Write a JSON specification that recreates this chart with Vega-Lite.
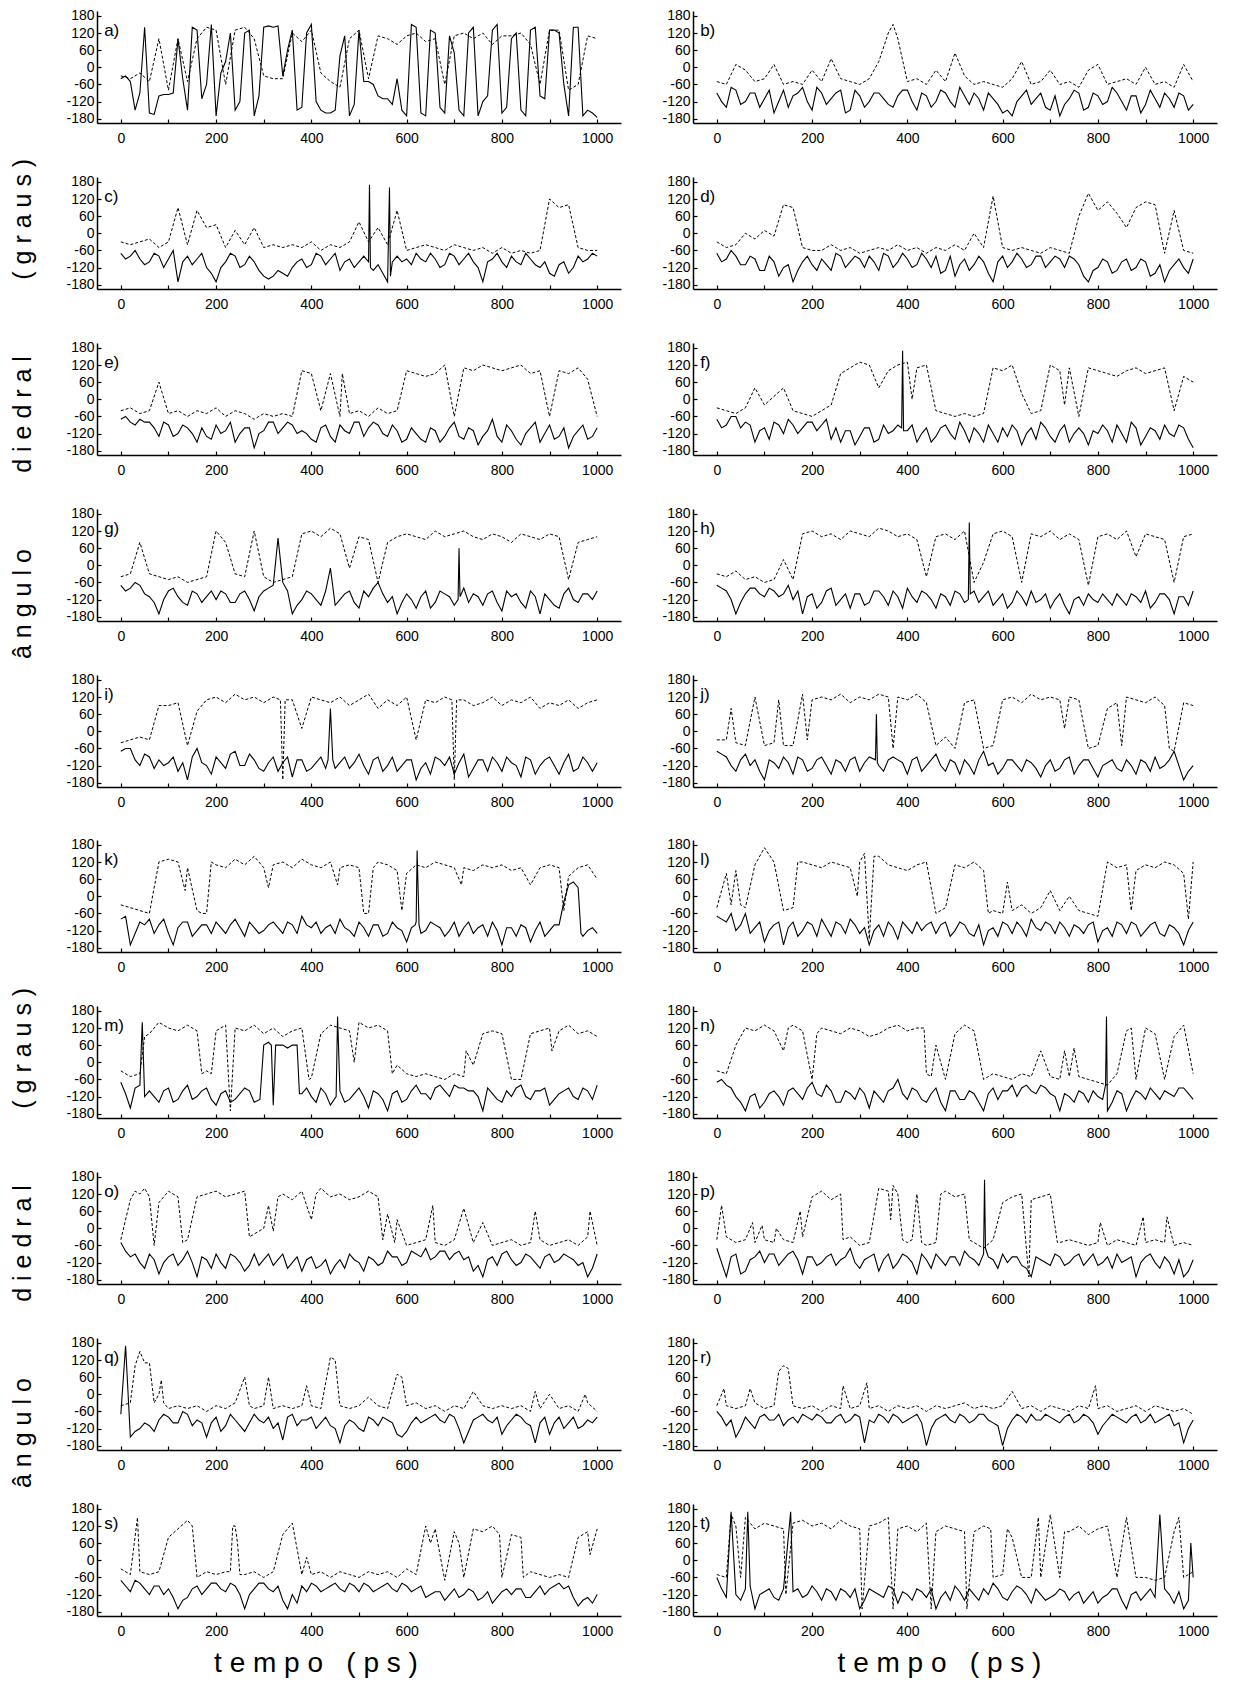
{
"$schema":"https://vega.github.io/schema/vega-lite/v6.json",
"padding":{"left":10,"top":8,"right":5,"bottom":5},
"datasets":{"main":[
{"p":"a)","t":0,"s":-40,"d":-30},{"p":"a)","t":20,"s":-50,"d":-40},{"p":"a)","t":40,"s":-90,"d":-20},{"p":"a)","t":60,"s":-160,"d":-50},{"p":"a)","t":80,"s":-100,"d":100},{"p":"a)","t":100,"s":-95,"d":-80},{"p":"a)","t":120,"s":100,"d":100},{"p":"a)","t":140,"s":-150,"d":-50},{"p":"a)","t":160,"s":130,"d":100},{"p":"a)","t":180,"s":-60,"d":140},{"p":"a)","t":200,"s":-170,"d":130},{"p":"a)","t":220,"s":20,"d":-60},{"p":"a)","t":240,"s":-150,"d":130},{"p":"a)","t":260,"s":120,"d":140},{"p":"a)","t":280,"s":-170,"d":100},{"p":"a)","t":300,"s":140,"d":-30},{"p":"a)","t":320,"s":140,"d":-40},{"p":"a)","t":340,"s":-30,"d":-40},{"p":"a)","t":360,"s":130,"d":120},{"p":"a)","t":380,"s":-140,"d":90},{"p":"a)","t":400,"s":150,"d":130},{"p":"a)","t":420,"s":-150,"d":-20},{"p":"a)","t":440,"s":-160,"d":-50},{"p":"a)","t":460,"s":40,"d":-70},{"p":"a)","t":480,"s":-170,"d":100},{"p":"a)","t":500,"s":130,"d":130},{"p":"a)","t":520,"s":-50,"d":-40},{"p":"a)","t":540,"s":-100,"d":110},{"p":"a)","t":560,"s":-110,"d":100},{"p":"a)","t":580,"s":-40,"d":80},{"p":"a)","t":600,"s":-170,"d":110},{"p":"a)","t":620,"s":140,"d":120},{"p":"a)","t":640,"s":-170,"d":90},{"p":"a)","t":660,"s":120,"d":100},{"p":"a)","t":680,"s":-160,"d":-60},{"p":"a)","t":700,"s":50,"d":110},{"p":"a)","t":720,"s":-170,"d":120},{"p":"a)","t":740,"s":140,"d":100},{"p":"a)","t":760,"s":-120,"d":120},{"p":"a)","t":780,"s":130,"d":80},{"p":"a)","t":800,"s":-160,"d":110},{"p":"a)","t":820,"s":100,"d":110},{"p":"a)","t":840,"s":-150,"d":120},{"p":"a)","t":860,"s":130,"d":80},{"p":"a)","t":880,"s":-100,"d":-60},{"p":"a)","t":900,"s":130,"d":130},{"p":"a)","t":920,"s":120,"d":130},{"p":"a)","t":940,"s":-170,"d":-80},{"p":"a)","t":960,"s":140,"d":-60},{"p":"a)","t":980,"s":-150,"d":110},{"p":"a)","t":1000,"s":-175,"d":100},
{"p":"a)","t":10,"s":-30},{"p":"a)","t":30,"s":-150},{"p":"a)","t":50,"s":140},{"p":"a)","t":70,"s":-165},{"p":"a)","t":90,"s":-95},{"p":"a)","t":110,"s":-90},{"p":"a)","t":130,"s":-40},{"p":"a)","t":150,"s":140},{"p":"a)","t":170,"s":-110},{"p":"a)","t":190,"s":150},{"p":"a)","t":210,"s":-20},{"p":"a)","t":230,"s":120},{"p":"a)","t":250,"s":-120},{"p":"a)","t":270,"s":130},{"p":"a)","t":290,"s":-100},{"p":"a)","t":310,"s":145},{"p":"a)","t":330,"s":145},{"p":"a)","t":350,"s":60},{"p":"a)","t":370,"s":-150},{"p":"a)","t":390,"s":120},{"p":"a)","t":410,"s":-120},{"p":"a)","t":430,"s":-160},{"p":"a)","t":450,"s":-150},{"p":"a)","t":470,"s":110},{"p":"a)","t":490,"s":-130},{"p":"a)","t":510,"s":-50},{"p":"a)","t":530,"s":-60},{"p":"a)","t":550,"s":-110},{"p":"a)","t":570,"s":-130},{"p":"a)","t":590,"s":-150},{"p":"a)","t":610,"s":150},{"p":"a)","t":630,"s":-160},{"p":"a)","t":650,"s":130},{"p":"a)","t":670,"s":-140},{"p":"a)","t":690,"s":110},{"p":"a)","t":710,"s":-150},{"p":"a)","t":730,"s":120},{"p":"a)","t":750,"s":-170},{"p":"a)","t":770,"s":-100},{"p":"a)","t":790,"s":150},{"p":"a)","t":810,"s":-140},{"p":"a)","t":830,"s":120},{"p":"a)","t":850,"s":-170},{"p":"a)","t":870,"s":140},{"p":"a)","t":890,"s":-110},{"p":"a)","t":910,"s":130},{"p":"a)","t":930,"s":-60},{"p":"a)","t":950,"s":140},{"p":"a)","t":970,"s":-170},{"p":"a)","t":990,"s":-160},
{"p":"b)","t":0,"s":-90,"d":-50},{"p":"b)","t":20,"s":-140,"d":-60},{"p":"b)","t":40,"s":-80,"d":10},{"p":"b)","t":60,"s":-120,"d":-10},{"p":"b)","t":80,"s":-90,"d":-50},{"p":"b)","t":100,"s":-110,"d":-40},{"p":"b)","t":120,"s":-160,"d":10},{"p":"b)","t":140,"s":-80,"d":-60},{"p":"b)","t":160,"s":-100,"d":-50},{"p":"b)","t":180,"s":-70,"d":-60},{"p":"b)","t":200,"s":-150,"d":-10},{"p":"b)","t":220,"s":-90,"d":-50},{"p":"b)","t":240,"s":-110,"d":30},{"p":"b)","t":260,"s":-80,"d":-40},{"p":"b)","t":280,"s":-150,"d":-50},{"p":"b)","t":300,"s":-100,"d":-60},{"p":"b)","t":320,"s":-120,"d":-40},{"p":"b)","t":340,"s":-90,"d":20},{"p":"b)","t":360,"s":-130,"d":120},{"p":"b)","t":380,"s":-100,"d":100},{"p":"b)","t":400,"s":-80,"d":-50},{"p":"b)","t":420,"s":-150,"d":-40},{"p":"b)","t":440,"s":-100,"d":-60},{"p":"b)","t":460,"s":-120,"d":-10},{"p":"b)","t":480,"s":-90,"d":-50},{"p":"b)","t":500,"s":-140,"d":50},{"p":"b)","t":520,"s":-100,"d":-30},{"p":"b)","t":540,"s":-90,"d":-60},{"p":"b)","t":560,"s":-150,"d":-50},{"p":"b)","t":580,"s":-110,"d":-60},{"p":"b)","t":600,"s":-160,"d":-70},{"p":"b)","t":620,"s":-170,"d":-40},{"p":"b)","t":640,"s":-100,"d":20},{"p":"b)","t":660,"s":-130,"d":-60},{"p":"b)","t":680,"s":-90,"d":-50},{"p":"b)","t":700,"s":-150,"d":-10},{"p":"b)","t":720,"s":-170,"d":-60},{"p":"b)","t":740,"s":-110,"d":-50},{"p":"b)","t":760,"s":-90,"d":-70},{"p":"b)","t":780,"s":-140,"d":-10},{"p":"b)","t":800,"s":-100,"d":10},{"p":"b)","t":820,"s":-120,"d":-60},{"p":"b)","t":840,"s":-90,"d":-50},{"p":"b)","t":860,"s":-150,"d":-40},{"p":"b)","t":880,"s":-100,"d":-60},{"p":"b)","t":900,"s":-130,"d":0},{"p":"b)","t":920,"s":-110,"d":-60},{"p":"b)","t":940,"s":-90,"d":-50},{"p":"b)","t":960,"s":-140,"d":-70},{"p":"b)","t":980,"s":-100,"d":10},{"p":"b)","t":1000,"s":-130,"d":-50},{"p":"b)","t":370,"d":150},
{"p":"b)","t":10,"s":-120},{"p":"b)","t":30,"s":-70},{"p":"b)","t":50,"s":-130},{"p":"b)","t":70,"s":-90},{"p":"b)","t":90,"s":-140},{"p":"b)","t":110,"s":-80},{"p":"b)","t":130,"s":-120},{"p":"b)","t":150,"s":-140},{"p":"b)","t":170,"s":-90},{"p":"b)","t":190,"s":-120},{"p":"b)","t":210,"s":-70},{"p":"b)","t":230,"s":-130},{"p":"b)","t":250,"s":-90},{"p":"b)","t":270,"s":-160},{"p":"b)","t":290,"s":-80},{"p":"b)","t":310,"s":-140},{"p":"b)","t":330,"s":-90},{"p":"b)","t":350,"s":-110},{"p":"b)","t":370,"s":-140},{"p":"b)","t":390,"s":-80},{"p":"b)","t":410,"s":-120},{"p":"b)","t":430,"s":-90},{"p":"b)","t":450,"s":-140},{"p":"b)","t":470,"s":-80},{"p":"b)","t":490,"s":-120},{"p":"b)","t":510,"s":-70},{"p":"b)","t":530,"s":-130},{"p":"b)","t":550,"s":-110},{"p":"b)","t":570,"s":-90},{"p":"b)","t":590,"s":-130},{"p":"b)","t":610,"s":-150},{"p":"b)","t":630,"s":-120},{"p":"b)","t":650,"s":-80},{"p":"b)","t":670,"s":-110},{"p":"b)","t":690,"s":-140},{"p":"b)","t":710,"s":-100},{"p":"b)","t":730,"s":-130},{"p":"b)","t":750,"s":-80},{"p":"b)","t":770,"s":-150},{"p":"b)","t":790,"s":-90},{"p":"b)","t":810,"s":-130},{"p":"b)","t":830,"s":-70},{"p":"b)","t":850,"s":-120},{"p":"b)","t":870,"s":-100},{"p":"b)","t":890,"s":-160},{"p":"b)","t":910,"s":-80},{"p":"b)","t":930,"s":-140},{"p":"b)","t":950,"s":-110},{"p":"b)","t":970,"s":-90},{"p":"b)","t":990,"s":-150},
{"p":"c)","t":0,"s":-70,"d":-30},{"p":"c)","t":20,"s":-80,"d":-40},{"p":"c)","t":40,"s":-90,"d":-30},{"p":"c)","t":60,"s":-100,"d":-20},{"p":"c)","t":80,"s":-80,"d":-50},{"p":"c)","t":100,"s":-90,"d":-30},{"p":"c)","t":120,"s":-170,"d":90},{"p":"c)","t":140,"s":-80,"d":-40},{"p":"c)","t":160,"s":-90,"d":80},{"p":"c)","t":180,"s":-120,"d":20},{"p":"c)","t":200,"s":-170,"d":30},{"p":"c)","t":220,"s":-100,"d":-50},{"p":"c)","t":240,"s":-80,"d":10},{"p":"c)","t":260,"s":-110,"d":-40},{"p":"c)","t":280,"s":-100,"d":20},{"p":"c)","t":300,"s":-150,"d":-50},{"p":"c)","t":320,"s":-150,"d":-40},{"p":"c)","t":340,"s":-140,"d":-50},{"p":"c)","t":360,"s":-120,"d":-40},{"p":"c)","t":380,"s":-90,"d":-50},{"p":"c)","t":400,"s":-110,"d":-30},{"p":"c)","t":420,"s":-80,"d":-60},{"p":"c)","t":440,"s":-90,"d":-40},{"p":"c)","t":460,"s":-130,"d":-50},{"p":"c)","t":480,"s":-90,"d":-30},{"p":"c)","t":500,"s":-100,"d":40},{"p":"c)","t":520,"s":-100,"d":-30},{"p":"c)","t":540,"s":-110,"d":20},{"p":"c)","t":560,"s":-170,"d":-40},{"p":"c)","t":580,"s":-80,"d":80},{"p":"c)","t":600,"s":-90,"d":-60},{"p":"c)","t":620,"s":-70,"d":-50},{"p":"c)","t":640,"s":-100,"d":-40},{"p":"c)","t":660,"s":-90,"d":-50},{"p":"c)","t":680,"s":-110,"d":-60},{"p":"c)","t":700,"s":-80,"d":-40},{"p":"c)","t":720,"s":-90,"d":-50},{"p":"c)","t":740,"s":-100,"d":-60},{"p":"c)","t":760,"s":-170,"d":-50},{"p":"c)","t":780,"s":-90,"d":-70},{"p":"c)","t":800,"s":-100,"d":-50},{"p":"c)","t":820,"s":-80,"d":-70},{"p":"c)","t":840,"s":-110,"d":-60},{"p":"c)","t":860,"s":-90,"d":-70},{"p":"c)","t":880,"s":-120,"d":-60},{"p":"c)","t":900,"s":-140,"d":120},{"p":"c)","t":920,"s":-110,"d":90},{"p":"c)","t":940,"s":-140,"d":100},{"p":"c)","t":960,"s":-80,"d":-50},{"p":"c)","t":980,"s":-90,"d":-60},{"p":"c)","t":1000,"s":-80,"d":-60},{"p":"c)","t":522,"s":170},{"p":"c)","t":524,"s":-120},{"p":"c)","t":564,"s":160},{"p":"c)","t":566,"s":-150},
{"p":"c)","t":10,"s":-90},{"p":"c)","t":30,"s":-60},{"p":"c)","t":50,"s":-110},{"p":"c)","t":70,"s":-70},{"p":"c)","t":90,"s":-120},{"p":"c)","t":110,"s":-60},{"p":"c)","t":130,"s":-100},{"p":"c)","t":150,"s":-110},{"p":"c)","t":170,"s":-70},{"p":"c)","t":190,"s":-140},{"p":"c)","t":210,"s":-120},{"p":"c)","t":230,"s":-70},{"p":"c)","t":250,"s":-120},{"p":"c)","t":270,"s":-80},{"p":"c)","t":290,"s":-130},{"p":"c)","t":310,"s":-160},{"p":"c)","t":330,"s":-130},{"p":"c)","t":350,"s":-150},{"p":"c)","t":370,"s":-100},{"p":"c)","t":390,"s":-120},{"p":"c)","t":410,"s":-70},{"p":"c)","t":430,"s":-110},{"p":"c)","t":450,"s":-70},{"p":"c)","t":470,"s":-100},{"p":"c)","t":490,"s":-120},{"p":"c)","t":510,"s":-80},{"p":"c)","t":530,"s":-130},{"p":"c)","t":550,"s":-140},{"p":"c)","t":570,"s":-100},{"p":"c)","t":590,"s":-100},{"p":"c)","t":610,"s":-110},{"p":"c)","t":630,"s":-90},{"p":"c)","t":650,"s":-70},{"p":"c)","t":670,"s":-120},{"p":"c)","t":690,"s":-70},{"p":"c)","t":710,"s":-110},{"p":"c)","t":730,"s":-70},{"p":"c)","t":750,"s":-120},{"p":"c)","t":770,"s":-100},{"p":"c)","t":790,"s":-70},{"p":"c)","t":810,"s":-120},{"p":"c)","t":830,"s":-100},{"p":"c)","t":850,"s":-70},{"p":"c)","t":870,"s":-110},{"p":"c)","t":890,"s":-100},{"p":"c)","t":910,"s":-150},{"p":"c)","t":930,"s":-100},{"p":"c)","t":950,"s":-120},{"p":"c)","t":970,"s":-100},{"p":"c)","t":990,"s":-70},
{"p":"d)","t":0,"s":-70,"d":-30},{"p":"d)","t":20,"s":-90,"d":-50},{"p":"d)","t":40,"s":-80,"d":-40},{"p":"d)","t":60,"s":-110,"d":0},{"p":"d)","t":80,"s":-90,"d":-20},{"p":"d)","t":100,"s":-130,"d":10},{"p":"d)","t":120,"s":-100,"d":-10},{"p":"d)","t":140,"s":-120,"d":100},{"p":"d)","t":160,"s":-170,"d":90},{"p":"d)","t":180,"s":-100,"d":-50},{"p":"d)","t":200,"s":-110,"d":-60},{"p":"d)","t":220,"s":-90,"d":-60},{"p":"d)","t":240,"s":-130,"d":-40},{"p":"d)","t":260,"s":-80,"d":-60},{"p":"d)","t":280,"s":-100,"d":-50},{"p":"d)","t":300,"s":-90,"d":-70},{"p":"d)","t":320,"s":-80,"d":-60},{"p":"d)","t":340,"s":-130,"d":-50},{"p":"d)","t":360,"s":-80,"d":-60},{"p":"d)","t":380,"s":-100,"d":-40},{"p":"d)","t":400,"s":-90,"d":-60},{"p":"d)","t":420,"s":-110,"d":-50},{"p":"d)","t":440,"s":-90,"d":-70},{"p":"d)","t":460,"s":-80,"d":-50},{"p":"d)","t":480,"s":-130,"d":-60},{"p":"d)","t":500,"s":-150,"d":-40},{"p":"d)","t":520,"s":-90,"d":-60},{"p":"d)","t":540,"s":-110,"d":0},{"p":"d)","t":560,"s":-100,"d":-50},{"p":"d)","t":580,"s":-170,"d":130},{"p":"d)","t":600,"s":-80,"d":-50},{"p":"d)","t":620,"s":-100,"d":-60},{"p":"d)","t":640,"s":-90,"d":-50},{"p":"d)","t":660,"s":-110,"d":-60},{"p":"d)","t":680,"s":-80,"d":-70},{"p":"d)","t":700,"s":-100,"d":-50},{"p":"d)","t":720,"s":-90,"d":-60},{"p":"d)","t":740,"s":-80,"d":-70},{"p":"d)","t":760,"s":-110,"d":60},{"p":"d)","t":780,"s":-170,"d":140},{"p":"d)","t":800,"s":-120,"d":80},{"p":"d)","t":820,"s":-100,"d":110},{"p":"d)","t":840,"s":-130,"d":70},{"p":"d)","t":860,"s":-90,"d":20},{"p":"d)","t":880,"s":-120,"d":90},{"p":"d)","t":900,"s":-100,"d":110},{"p":"d)","t":920,"s":-140,"d":100},{"p":"d)","t":940,"s":-170,"d":-70},{"p":"d)","t":960,"s":-110,"d":80},{"p":"d)","t":980,"s":-120,"d":-60},{"p":"d)","t":1000,"s":-90,"d":-70},
{"p":"d)","t":10,"s":-100},{"p":"d)","t":30,"s":-60},{"p":"d)","t":50,"s":-110},{"p":"d)","t":70,"s":-80},{"p":"d)","t":90,"s":-130},{"p":"d)","t":110,"s":-80},{"p":"d)","t":130,"s":-150},{"p":"d)","t":150,"s":-110},{"p":"d)","t":170,"s":-130},{"p":"d)","t":190,"s":-80},{"p":"d)","t":210,"s":-130},{"p":"d)","t":230,"s":-110},{"p":"d)","t":250,"s":-70},{"p":"d)","t":270,"s":-120},{"p":"d)","t":290,"s":-80},{"p":"d)","t":310,"s":-120},{"p":"d)","t":330,"s":-100},{"p":"d)","t":350,"s":-70},{"p":"d)","t":370,"s":-120},{"p":"d)","t":390,"s":-70},{"p":"d)","t":410,"s":-120},{"p":"d)","t":430,"s":-70},{"p":"d)","t":450,"s":-120},{"p":"d)","t":470,"s":-140},{"p":"d)","t":490,"s":-80},{"p":"d)","t":510,"s":-110},{"p":"d)","t":530,"s":-130},{"p":"d)","t":550,"s":-80},{"p":"d)","t":570,"s":-140},{"p":"d)","t":590,"s":-100},{"p":"d)","t":610,"s":-120},{"p":"d)","t":630,"s":-70},{"p":"d)","t":650,"s":-120},{"p":"d)","t":670,"s":-80},{"p":"d)","t":690,"s":-120},{"p":"d)","t":710,"s":-80},{"p":"d)","t":730,"s":-120},{"p":"d)","t":750,"s":-90},{"p":"d)","t":770,"s":-150},{"p":"d)","t":790,"s":-130},{"p":"d)","t":810,"s":-90},{"p":"d)","t":830,"s":-140},{"p":"d)","t":850,"s":-100},{"p":"d)","t":870,"s":-130},{"p":"d)","t":890,"s":-90},{"p":"d)","t":910,"s":-150},{"p":"d)","t":930,"s":-110},{"p":"d)","t":950,"s":-130},{"p":"d)","t":970,"s":-90},{"p":"d)","t":990,"s":-140},
{"p":"e)","t":0,"s":-70,"d":-40},{"p":"e)","t":20,"s":-80,"d":-30},{"p":"e)","t":40,"s":-70,"d":-50},{"p":"e)","t":60,"s":-80,"d":-40},{"p":"e)","t":80,"s":-130,"d":60},{"p":"e)","t":100,"s":-90,"d":-50},{"p":"e)","t":120,"s":-120,"d":-40},{"p":"e)","t":140,"s":-100,"d":-60},{"p":"e)","t":160,"s":-150,"d":-40},{"p":"e)","t":180,"s":-130,"d":-50},{"p":"e)","t":200,"s":-90,"d":-30},{"p":"e)","t":220,"s":-110,"d":-60},{"p":"e)","t":240,"s":-150,"d":-40},{"p":"e)","t":260,"s":-100,"d":-50},{"p":"e)","t":280,"s":-170,"d":-70},{"p":"e)","t":300,"s":-110,"d":-50},{"p":"e)","t":320,"s":-80,"d":-60},{"p":"e)","t":340,"s":-100,"d":-50},{"p":"e)","t":360,"s":-90,"d":-60},{"p":"e)","t":380,"s":-110,"d":100},{"p":"e)","t":400,"s":-140,"d":90},{"p":"e)","t":420,"s":-100,"d":-40},{"p":"e)","t":440,"s":-130,"d":90},{"p":"e)","t":460,"s":-90,"d":-60},{"p":"e)","t":480,"s":-120,"d":-50},{"p":"e)","t":500,"s":-80,"d":-40},{"p":"e)","t":520,"s":-100,"d":-60},{"p":"e)","t":540,"s":-90,"d":-30},{"p":"e)","t":560,"s":-130,"d":-50},{"p":"e)","t":580,"s":-110,"d":-40},{"p":"e)","t":600,"s":-140,"d":100},{"p":"e)","t":620,"s":-120,"d":90},{"p":"e)","t":640,"s":-150,"d":80},{"p":"e)","t":660,"s":-110,"d":90},{"p":"e)","t":680,"s":-130,"d":120},{"p":"e)","t":700,"s":-80,"d":-60},{"p":"e)","t":720,"s":-140,"d":110},{"p":"e)","t":740,"s":-110,"d":100},{"p":"e)","t":760,"s":-130,"d":120},{"p":"e)","t":780,"s":-70,"d":110},{"p":"e)","t":800,"s":-150,"d":100},{"p":"e)","t":820,"s":-110,"d":110},{"p":"e)","t":840,"s":-160,"d":120},{"p":"e)","t":860,"s":-100,"d":90},{"p":"e)","t":880,"s":-150,"d":100},{"p":"e)","t":900,"s":-90,"d":-60},{"p":"e)","t":920,"s":-130,"d":100},{"p":"e)","t":940,"s":-170,"d":90},{"p":"e)","t":960,"s":-110,"d":110},{"p":"e)","t":980,"s":-140,"d":70},{"p":"e)","t":1000,"s":-100,"d":-60},{"p":"e)","t":465,"d":90},
{"p":"e)","t":10,"s":-60},{"p":"e)","t":30,"s":-90},{"p":"e)","t":50,"s":-80},{"p":"e)","t":70,"s":-100},{"p":"e)","t":90,"s":-80},{"p":"e)","t":110,"s":-130},{"p":"e)","t":130,"s":-90},{"p":"e)","t":150,"s":-120},{"p":"e)","t":170,"s":-100},{"p":"e)","t":190,"s":-140},{"p":"e)","t":210,"s":-120},{"p":"e)","t":230,"s":-80},{"p":"e)","t":250,"s":-120},{"p":"e)","t":270,"s":-100},{"p":"e)","t":290,"s":-120},{"p":"e)","t":310,"s":-80},{"p":"e)","t":330,"s":-120},{"p":"e)","t":350,"s":-80},{"p":"e)","t":370,"s":-120},{"p":"e)","t":390,"s":-120},{"p":"e)","t":410,"s":-150},{"p":"e)","t":430,"s":-90},{"p":"e)","t":450,"s":-150},{"p":"e)","t":470,"s":-110},{"p":"e)","t":490,"s":-80},{"p":"e)","t":510,"s":-130},{"p":"e)","t":530,"s":-80},{"p":"e)","t":550,"s":-120},{"p":"e)","t":570,"s":-90},{"p":"e)","t":590,"s":-150},{"p":"e)","t":610,"s":-100},{"p":"e)","t":630,"s":-140},{"p":"e)","t":650,"s":-100},{"p":"e)","t":670,"s":-150},{"p":"e)","t":690,"s":-100},{"p":"e)","t":710,"s":-130},{"p":"e)","t":730,"s":-100},{"p":"e)","t":750,"s":-160},{"p":"e)","t":770,"s":-110},{"p":"e)","t":790,"s":-130},{"p":"e)","t":810,"s":-90},{"p":"e)","t":830,"s":-140},{"p":"e)","t":850,"s":-120},{"p":"e)","t":870,"s":-80},{"p":"e)","t":890,"s":-120},{"p":"e)","t":910,"s":-140},{"p":"e)","t":930,"s":-100},{"p":"e)","t":950,"s":-130},{"p":"e)","t":970,"s":-90},{"p":"e)","t":990,"s":-130},
{"p":"f)","t":0,"s":-70,"d":-30},{"p":"f)","t":20,"s":-90,"d":-40},{"p":"f)","t":40,"s":-60,"d":-50},{"p":"f)","t":60,"s":-80,"d":-30},{"p":"f)","t":80,"s":-150,"d":40},{"p":"f)","t":100,"s":-100,"d":-20},{"p":"f)","t":120,"s":-80,"d":10},{"p":"f)","t":140,"s":-120,"d":40},{"p":"f)","t":160,"s":-90,"d":-40},{"p":"f)","t":180,"s":-100,"d":-50},{"p":"f)","t":200,"s":-80,"d":-60},{"p":"f)","t":220,"s":-90,"d":-40},{"p":"f)","t":240,"s":-140,"d":-20},{"p":"f)","t":260,"s":-150,"d":90},{"p":"f)","t":280,"s":-110,"d":110},{"p":"f)","t":300,"s":-130,"d":130},{"p":"f)","t":320,"s":-100,"d":120},{"p":"f)","t":340,"s":-140,"d":40},{"p":"f)","t":360,"s":-120,"d":100},{"p":"f)","t":380,"s":-90,"d":120},{"p":"f)","t":400,"s":-110,"d":130},{"p":"f)","t":420,"s":-150,"d":110},{"p":"f)","t":440,"s":-100,"d":120},{"p":"f)","t":460,"s":-130,"d":-40},{"p":"f)","t":480,"s":-90,"d":-50},{"p":"f)","t":500,"s":-140,"d":-60},{"p":"f)","t":520,"s":-110,"d":-50},{"p":"f)","t":540,"s":-100,"d":-60},{"p":"f)","t":560,"s":-150,"d":-50},{"p":"f)","t":580,"s":-120,"d":110},{"p":"f)","t":600,"s":-100,"d":100},{"p":"f)","t":620,"s":-90,"d":120},{"p":"f)","t":640,"s":-160,"d":20},{"p":"f)","t":660,"s":-100,"d":-50},{"p":"f)","t":680,"s":-80,"d":-40},{"p":"f)","t":700,"s":-130,"d":120},{"p":"f)","t":720,"s":-110,"d":100},{"p":"f)","t":740,"s":-150,"d":110},{"p":"f)","t":760,"s":-100,"d":-60},{"p":"f)","t":780,"s":-160,"d":110},{"p":"f)","t":800,"s":-120,"d":100},{"p":"f)","t":820,"s":-110,"d":90},{"p":"f)","t":840,"s":-90,"d":80},{"p":"f)","t":860,"s":-150,"d":100},{"p":"f)","t":880,"s":-100,"d":110},{"p":"f)","t":900,"s":-130,"d":90},{"p":"f)","t":920,"s":-110,"d":100},{"p":"f)","t":940,"s":-90,"d":110},{"p":"f)","t":960,"s":-130,"d":-40},{"p":"f)","t":980,"s":-100,"d":80},{"p":"f)","t":1000,"s":-170,"d":60},{"p":"f)","t":388,"s":-100},{"p":"f)","t":390,"s":170},{"p":"f)","t":392,"s":-110},{"p":"f)","t":410,"d":0},{"p":"f)","t":730,"d":-20},
{"p":"f)","t":10,"s":-100},{"p":"f)","t":30,"s":-60},{"p":"f)","t":50,"s":-100},{"p":"f)","t":70,"s":-90},{"p":"f)","t":90,"s":-110},{"p":"f)","t":110,"s":-140},{"p":"f)","t":130,"s":-90},{"p":"f)","t":150,"s":-70},{"p":"f)","t":170,"s":-120},{"p":"f)","t":190,"s":-80},{"p":"f)","t":210,"s":-110},{"p":"f)","t":230,"s":-70},{"p":"f)","t":250,"s":-100},{"p":"f)","t":270,"s":-110},{"p":"f)","t":290,"s":-160},{"p":"f)","t":310,"s":-100},{"p":"f)","t":330,"s":-150},{"p":"f)","t":350,"s":-90},{"p":"f)","t":370,"s":-110},{"p":"f)","t":410,"s":-90},{"p":"f)","t":430,"s":-120},{"p":"f)","t":450,"s":-150},{"p":"f)","t":470,"s":-100},{"p":"f)","t":490,"s":-120},{"p":"f)","t":510,"s":-80},{"p":"f)","t":530,"s":-150},{"p":"f)","t":550,"s":-120},{"p":"f)","t":570,"s":-90},{"p":"f)","t":590,"s":-150},{"p":"f)","t":610,"s":-130},{"p":"f)","t":630,"s":-110},{"p":"f)","t":650,"s":-120},{"p":"f)","t":670,"s":-140},{"p":"f)","t":690,"s":-100},{"p":"f)","t":710,"s":-150},{"p":"f)","t":730,"s":-90},{"p":"f)","t":750,"s":-120},{"p":"f)","t":770,"s":-120},{"p":"f)","t":790,"s":-110},{"p":"f)","t":810,"s":-90},{"p":"f)","t":830,"s":-150},{"p":"f)","t":850,"s":-120},{"p":"f)","t":870,"s":-80},{"p":"f)","t":890,"s":-160},{"p":"f)","t":910,"s":-100},{"p":"f)","t":930,"s":-140},{"p":"f)","t":950,"s":-120},{"p":"f)","t":970,"s":-90},{"p":"f)","t":990,"s":-140},
{"p":"g)","t":0,"s":-70,"d":-40},{"p":"g)","t":20,"s":-80,"d":-30},{"p":"g)","t":40,"s":-70,"d":80},{"p":"g)","t":60,"s":-110,"d":-30},{"p":"g)","t":80,"s":-170,"d":-40},{"p":"g)","t":100,"s":-90,"d":-50},{"p":"g)","t":120,"s":-110,"d":-40},{"p":"g)","t":140,"s":-140,"d":-60},{"p":"g)","t":160,"s":-100,"d":-50},{"p":"g)","t":180,"s":-110,"d":-40},{"p":"g)","t":200,"s":-120,"d":120},{"p":"g)","t":220,"s":-100,"d":80},{"p":"g)","t":240,"s":-130,"d":-30},{"p":"g)","t":260,"s":-90,"d":-40},{"p":"g)","t":280,"s":-160,"d":120},{"p":"g)","t":300,"s":-90,"d":-40},{"p":"g)","t":320,"s":-70,"d":-60},{"p":"g)","t":340,"s":-60,"d":-50},{"p":"g)","t":360,"s":-170,"d":-40},{"p":"g)","t":380,"s":-120,"d":110},{"p":"g)","t":400,"s":-100,"d":120},{"p":"g)","t":420,"s":-140,"d":100},{"p":"g)","t":440,"s":-10,"d":130},{"p":"g)","t":460,"s":-120,"d":110},{"p":"g)","t":480,"s":-90,"d":-10},{"p":"g)","t":500,"s":-150,"d":100},{"p":"g)","t":520,"s":-110,"d":90},{"p":"g)","t":540,"s":-60,"d":-60},{"p":"g)","t":560,"s":-130,"d":80},{"p":"g)","t":580,"s":-170,"d":100},{"p":"g)","t":600,"s":-100,"d":110},{"p":"g)","t":620,"s":-150,"d":100},{"p":"g)","t":640,"s":-90,"d":90},{"p":"g)","t":660,"s":-130,"d":120},{"p":"g)","t":680,"s":-100,"d":100},{"p":"g)","t":700,"s":-140,"d":110},{"p":"g)","t":720,"s":-80,"d":120},{"p":"g)","t":740,"s":-100,"d":100},{"p":"g)","t":760,"s":-140,"d":90},{"p":"g)","t":780,"s":-90,"d":110},{"p":"g)","t":800,"s":-160,"d":100},{"p":"g)","t":820,"s":-110,"d":80},{"p":"g)","t":840,"s":-130,"d":110},{"p":"g)","t":860,"s":-90,"d":100},{"p":"g)","t":880,"s":-170,"d":90},{"p":"g)","t":900,"s":-120,"d":110},{"p":"g)","t":920,"s":-150,"d":100},{"p":"g)","t":940,"s":-80,"d":-50},{"p":"g)","t":960,"s":-130,"d":80},{"p":"g)","t":980,"s":-100,"d":90},{"p":"g)","t":1000,"s":-90,"d":100},{"p":"g)","t":330,"s":95},{"p":"g)","t":708,"s":-120},{"p":"g)","t":710,"s":60},{"p":"g)","t":712,"s":-110},
{"p":"g)","t":10,"s":-90},{"p":"g)","t":30,"s":-60},{"p":"g)","t":50,"s":-100},{"p":"g)","t":70,"s":-130},{"p":"g)","t":90,"s":-120},{"p":"g)","t":110,"s":-80},{"p":"g)","t":130,"s":-130},{"p":"g)","t":150,"s":-90},{"p":"g)","t":170,"s":-130},{"p":"g)","t":190,"s":-90},{"p":"g)","t":210,"s":-90},{"p":"g)","t":230,"s":-130},{"p":"g)","t":250,"s":-100},{"p":"g)","t":270,"s":-120},{"p":"g)","t":290,"s":-110},{"p":"g)","t":310,"s":-80},{"p":"g)","t":350,"s":-90},{"p":"g)","t":370,"s":-140},{"p":"g)","t":390,"s":-90},{"p":"g)","t":410,"s":-120},{"p":"g)","t":430,"s":-90},{"p":"g)","t":450,"s":-140},{"p":"g)","t":470,"s":-100},{"p":"g)","t":490,"s":-130},{"p":"g)","t":510,"s":-90},{"p":"g)","t":530,"s":-80},{"p":"g)","t":550,"s":-100},{"p":"g)","t":570,"s":-110},{"p":"g)","t":590,"s":-130},{"p":"g)","t":610,"s":-120},{"p":"g)","t":630,"s":-110},{"p":"g)","t":650,"s":-150},{"p":"g)","t":670,"s":-90},{"p":"g)","t":690,"s":-110},{"p":"g)","t":730,"s":-130},{"p":"g)","t":750,"s":-110},{"p":"g)","t":770,"s":-100},{"p":"g)","t":790,"s":-130},{"p":"g)","t":810,"s":-90},{"p":"g)","t":830,"s":-100},{"p":"g)","t":850,"s":-150},{"p":"g)","t":870,"s":-110},{"p":"g)","t":890,"s":-100},{"p":"g)","t":910,"s":-140},{"p":"g)","t":930,"s":-100},{"p":"g)","t":950,"s":-120},{"p":"g)","t":970,"s":-100},{"p":"g)","t":990,"s":-120},
{"p":"h)","t":0,"s":-70,"d":-30},{"p":"h)","t":20,"s":-90,"d":-40},{"p":"h)","t":40,"s":-170,"d":-20},{"p":"h)","t":60,"s":-100,"d":-50},{"p":"h)","t":80,"s":-80,"d":-40},{"p":"h)","t":100,"s":-110,"d":-60},{"p":"h)","t":120,"s":-90,"d":-50},{"p":"h)","t":140,"s":-100,"d":20},{"p":"h)","t":160,"s":-120,"d":-50},{"p":"h)","t":180,"s":-170,"d":110},{"p":"h)","t":200,"s":-100,"d":120},{"p":"h)","t":220,"s":-130,"d":100},{"p":"h)","t":240,"s":-80,"d":110},{"p":"h)","t":260,"s":-120,"d":90},{"p":"h)","t":280,"s":-150,"d":120},{"p":"h)","t":300,"s":-100,"d":110},{"p":"h)","t":320,"s":-130,"d":100},{"p":"h)","t":340,"s":-90,"d":130},{"p":"h)","t":360,"s":-140,"d":120},{"p":"h)","t":380,"s":-110,"d":100},{"p":"h)","t":400,"s":-80,"d":110},{"p":"h)","t":420,"s":-130,"d":90},{"p":"h)","t":440,"s":-100,"d":-40},{"p":"h)","t":460,"s":-150,"d":100},{"p":"h)","t":480,"s":-110,"d":110},{"p":"h)","t":500,"s":-90,"d":90},{"p":"h)","t":520,"s":-130,"d":120},{"p":"h)","t":540,"s":-90,"d":-60},{"p":"h)","t":560,"s":-110,"d":10},{"p":"h)","t":580,"s":-140,"d":110},{"p":"h)","t":600,"s":-100,"d":120},{"p":"h)","t":620,"s":-130,"d":100},{"p":"h)","t":640,"s":-110,"d":-60},{"p":"h)","t":660,"s":-90,"d":110},{"p":"h)","t":680,"s":-120,"d":100},{"p":"h)","t":700,"s":-150,"d":120},{"p":"h)","t":720,"s":-100,"d":90},{"p":"h)","t":740,"s":-170,"d":110},{"p":"h)","t":760,"s":-110,"d":90},{"p":"h)","t":780,"s":-100,"d":-70},{"p":"h)","t":800,"s":-130,"d":100},{"p":"h)","t":820,"s":-120,"d":110},{"p":"h)","t":840,"s":-100,"d":90},{"p":"h)","t":860,"s":-140,"d":120},{"p":"h)","t":880,"s":-110,"d":30},{"p":"h)","t":900,"s":-90,"d":110},{"p":"h)","t":920,"s":-130,"d":100},{"p":"h)","t":940,"s":-100,"d":90},{"p":"h)","t":960,"s":-170,"d":-60},{"p":"h)","t":980,"s":-110,"d":100},{"p":"h)","t":1000,"s":-90,"d":110},{"p":"h)","t":528,"s":-120},{"p":"h)","t":530,"s":150},{"p":"h)","t":532,"s":-100},
{"p":"h)","t":10,"s":-80},{"p":"h)","t":30,"s":-120},{"p":"h)","t":50,"s":-130},{"p":"h)","t":70,"s":-80},{"p":"h)","t":90,"s":-100},{"p":"h)","t":110,"s":-80},{"p":"h)","t":130,"s":-110},{"p":"h)","t":150,"s":-70},{"p":"h)","t":170,"s":-90},{"p":"h)","t":190,"s":-110},{"p":"h)","t":210,"s":-150},{"p":"h)","t":230,"s":-90},{"p":"h)","t":250,"s":-140},{"p":"h)","t":270,"s":-100},{"p":"h)","t":290,"s":-100},{"p":"h)","t":310,"s":-140},{"p":"h)","t":330,"s":-90},{"p":"h)","t":350,"s":-110},{"p":"h)","t":370,"s":-90},{"p":"h)","t":390,"s":-150},{"p":"h)","t":410,"s":-110},{"p":"h)","t":430,"s":-90},{"p":"h)","t":450,"s":-120},{"p":"h)","t":470,"s":-100},{"p":"h)","t":490,"s":-140},{"p":"h)","t":510,"s":-100},{"p":"h)","t":550,"s":-130},{"p":"h)","t":570,"s":-90},{"p":"h)","t":590,"s":-120},{"p":"h)","t":610,"s":-150},{"p":"h)","t":630,"s":-90},{"p":"h)","t":650,"s":-140},{"p":"h)","t":670,"s":-130},{"p":"h)","t":690,"s":-100},{"p":"h)","t":710,"s":-120},{"p":"h)","t":730,"s":-140},{"p":"h)","t":750,"s":-120},{"p":"h)","t":770,"s":-140},{"p":"h)","t":790,"s":-120},{"p":"h)","t":810,"s":-100},{"p":"h)","t":830,"s":-140},{"p":"h)","t":850,"s":-120},{"p":"h)","t":870,"s":-100},{"p":"h)","t":890,"s":-130},{"p":"h)","t":910,"s":-150},{"p":"h)","t":930,"s":-100},{"p":"h)","t":950,"s":-120},{"p":"h)","t":970,"s":-110},{"p":"h)","t":990,"s":-140},
{"p":"i)","t":0,"s":-70,"d":-40},{"p":"i)","t":20,"s":-60,"d":-30},{"p":"i)","t":40,"s":-120,"d":-20},{"p":"i)","t":60,"s":-90,"d":-30},{"p":"i)","t":80,"s":-100,"d":90},{"p":"i)","t":100,"s":-110,"d":90},{"p":"i)","t":120,"s":-140,"d":100},{"p":"i)","t":140,"s":-170,"d":-50},{"p":"i)","t":160,"s":-60,"d":70},{"p":"i)","t":180,"s":-120,"d":110},{"p":"i)","t":200,"s":-90,"d":120},{"p":"i)","t":220,"s":-130,"d":100},{"p":"i)","t":240,"s":-70,"d":130},{"p":"i)","t":260,"s":-120,"d":110},{"p":"i)","t":280,"s":-100,"d":120},{"p":"i)","t":300,"s":-140,"d":100},{"p":"i)","t":320,"s":-90,"d":120},{"p":"i)","t":340,"s":-110,"d":-170},{"p":"i)","t":360,"s":-160,"d":110},{"p":"i)","t":380,"s":-100,"d":10},{"p":"i)","t":400,"s":-130,"d":120},{"p":"i)","t":420,"s":-90,"d":110},{"p":"i)","t":440,"s":80,"d":100},{"p":"i)","t":460,"s":-110,"d":120},{"p":"i)","t":480,"s":-130,"d":90},{"p":"i)","t":500,"s":-80,"d":110},{"p":"i)","t":520,"s":-150,"d":130},{"p":"i)","t":540,"s":-90,"d":80},{"p":"i)","t":560,"s":-120,"d":110},{"p":"i)","t":580,"s":-140,"d":90},{"p":"i)","t":600,"s":-100,"d":120},{"p":"i)","t":620,"s":-170,"d":-30},{"p":"i)","t":640,"s":-110,"d":110},{"p":"i)","t":660,"s":-90,"d":100},{"p":"i)","t":680,"s":-120,"d":120},{"p":"i)","t":700,"s":-150,"d":-170},{"p":"i)","t":720,"s":-80,"d":110},{"p":"i)","t":740,"s":-130,"d":90},{"p":"i)","t":760,"s":-100,"d":100},{"p":"i)","t":780,"s":-90,"d":120},{"p":"i)","t":800,"s":-140,"d":90},{"p":"i)","t":820,"s":-110,"d":110},{"p":"i)","t":840,"s":-160,"d":100},{"p":"i)","t":860,"s":-100,"d":120},{"p":"i)","t":880,"s":-120,"d":80},{"p":"i)","t":900,"s":-90,"d":100},{"p":"i)","t":920,"s":-150,"d":90},{"p":"i)","t":940,"s":-80,"d":110},{"p":"i)","t":960,"s":-130,"d":80},{"p":"i)","t":980,"s":-110,"d":100},{"p":"i)","t":1000,"s":-110,"d":110},{"p":"i)","t":435,"s":-100},{"p":"i)","t":445,"s":-100},{"p":"i)","t":335,"d":110},{"p":"i)","t":345,"d":110},{"p":"i)","t":695,"d":110},{"p":"i)","t":705,"d":110},
{"p":"i)","t":10,"s":-60},{"p":"i)","t":30,"s":-100},{"p":"i)","t":50,"s":-80},{"p":"i)","t":70,"s":-130},{"p":"i)","t":90,"s":-120},{"p":"i)","t":110,"s":-90},{"p":"i)","t":130,"s":-110},{"p":"i)","t":150,"s":-90},{"p":"i)","t":170,"s":-110},{"p":"i)","t":190,"s":-150},{"p":"i)","t":210,"s":-110},{"p":"i)","t":230,"s":-80},{"p":"i)","t":250,"s":-120},{"p":"i)","t":270,"s":-80},{"p":"i)","t":290,"s":-130},{"p":"i)","t":310,"s":-110},{"p":"i)","t":330,"s":-140},{"p":"i)","t":350,"s":-90},{"p":"i)","t":370,"s":-100},{"p":"i)","t":390,"s":-140},{"p":"i)","t":410,"s":-110},{"p":"i)","t":430,"s":-130},{"p":"i)","t":450,"s":-130},{"p":"i)","t":470,"s":-90},{"p":"i)","t":490,"s":-110},{"p":"i)","t":510,"s":-120},{"p":"i)","t":530,"s":-100},{"p":"i)","t":550,"s":-140},{"p":"i)","t":570,"s":-90},{"p":"i)","t":590,"s":-120},{"p":"i)","t":610,"s":-100},{"p":"i)","t":630,"s":-130},{"p":"i)","t":650,"s":-150},{"p":"i)","t":670,"s":-100},{"p":"i)","t":690,"s":-90},{"p":"i)","t":710,"s":-110},{"p":"i)","t":730,"s":-160},{"p":"i)","t":750,"s":-100},{"p":"i)","t":770,"s":-140},{"p":"i)","t":790,"s":-110},{"p":"i)","t":810,"s":-90},{"p":"i)","t":830,"s":-120},{"p":"i)","t":850,"s":-90},{"p":"i)","t":870,"s":-150},{"p":"i)","t":890,"s":-100},{"p":"i)","t":910,"s":-120},{"p":"i)","t":930,"s":-110},{"p":"i)","t":950,"s":-140},{"p":"i)","t":970,"s":-90},{"p":"i)","t":990,"s":-140},
{"p":"j)","t":0,"s":-70,"d":-30},{"p":"j)","t":20,"s":-90,"d":-30},{"p":"j)","t":40,"s":-140,"d":-40},{"p":"j)","t":60,"s":-80,"d":-50},{"p":"j)","t":80,"s":-100,"d":120},{"p":"j)","t":100,"s":-170,"d":-50},{"p":"j)","t":120,"s":-110,"d":-40},{"p":"j)","t":140,"s":-90,"d":-50},{"p":"j)","t":160,"s":-150,"d":-50},{"p":"j)","t":180,"s":-100,"d":130},{"p":"j)","t":200,"s":-130,"d":110},{"p":"j)","t":220,"s":-90,"d":120},{"p":"j)","t":240,"s":-150,"d":110},{"p":"j)","t":260,"s":-110,"d":130},{"p":"j)","t":280,"s":-100,"d":100},{"p":"j)","t":300,"s":-140,"d":120},{"p":"j)","t":320,"s":-90,"d":110},{"p":"j)","t":340,"s":-120,"d":130},{"p":"j)","t":360,"s":-100,"d":120},{"p":"j)","t":380,"s":-100,"d":120},{"p":"j)","t":400,"s":-150,"d":110},{"p":"j)","t":420,"s":-90,"d":130},{"p":"j)","t":440,"s":-120,"d":100},{"p":"j)","t":460,"s":-80,"d":-50},{"p":"j)","t":480,"s":-140,"d":-20},{"p":"j)","t":500,"s":-110,"d":-60},{"p":"j)","t":520,"s":-100,"d":100},{"p":"j)","t":540,"s":-150,"d":110},{"p":"j)","t":560,"s":-70,"d":-60},{"p":"j)","t":580,"s":-110,"d":-50},{"p":"j)","t":600,"s":-130,"d":110},{"p":"j)","t":620,"s":-100,"d":120},{"p":"j)","t":640,"s":-140,"d":100},{"p":"j)","t":660,"s":-110,"d":130},{"p":"j)","t":680,"s":-160,"d":110},{"p":"j)","t":700,"s":-100,"d":120},{"p":"j)","t":720,"s":-130,"d":110},{"p":"j)","t":740,"s":-90,"d":120},{"p":"j)","t":760,"s":-120,"d":110},{"p":"j)","t":780,"s":-100,"d":-60},{"p":"j)","t":800,"s":-160,"d":-50},{"p":"j)","t":820,"s":-110,"d":80},{"p":"j)","t":840,"s":-130,"d":100},{"p":"j)","t":860,"s":-100,"d":120},{"p":"j)","t":880,"s":-150,"d":110},{"p":"j)","t":900,"s":-110,"d":100},{"p":"j)","t":920,"s":-90,"d":120},{"p":"j)","t":940,"s":-120,"d":90},{"p":"j)","t":960,"s":-70,"d":-70},{"p":"j)","t":980,"s":-170,"d":100},{"p":"j)","t":1000,"s":-120,"d":90},{"p":"j)","t":333,"s":-100},{"p":"j)","t":335,"s":60},{"p":"j)","t":337,"s":-110},{"p":"j)","t":30,"d":80},{"p":"j)","t":130,"d":110},{"p":"j)","t":190,"d":-30},{"p":"j)","t":370,"d":-60},{"p":"j)","t":730,"d":10},{"p":"j)","t":850,"d":-50},{"p":"j)","t":950,"d":-60},
{"p":"j)","t":10,"s":-80},{"p":"j)","t":30,"s":-120},{"p":"j)","t":50,"s":-100},{"p":"j)","t":70,"s":-120},{"p":"j)","t":90,"s":-140},{"p":"j)","t":110,"s":-100},{"p":"j)","t":130,"s":-130},{"p":"j)","t":150,"s":-110},{"p":"j)","t":170,"s":-90},{"p":"j)","t":190,"s":-140},{"p":"j)","t":210,"s":-100},{"p":"j)","t":230,"s":-120},{"p":"j)","t":250,"s":-100},{"p":"j)","t":270,"s":-140},{"p":"j)","t":290,"s":-90},{"p":"j)","t":310,"s":-110},{"p":"j)","t":350,"s":-140},{"p":"j)","t":370,"s":-90},{"p":"j)","t":390,"s":-110},{"p":"j)","t":410,"s":-100},{"p":"j)","t":430,"s":-140},{"p":"j)","t":450,"s":-100},{"p":"j)","t":470,"s":-120},{"p":"j)","t":490,"s":-100},{"p":"j)","t":510,"s":-150},{"p":"j)","t":530,"s":-120},{"p":"j)","t":550,"s":-100},{"p":"j)","t":570,"s":-120},{"p":"j)","t":590,"s":-150},{"p":"j)","t":610,"s":-100},{"p":"j)","t":630,"s":-120},{"p":"j)","t":650,"s":-100},{"p":"j)","t":670,"s":-130},{"p":"j)","t":690,"s":-120},{"p":"j)","t":710,"s":-140},{"p":"j)","t":730,"s":-100},{"p":"j)","t":750,"s":-150},{"p":"j)","t":770,"s":-100},{"p":"j)","t":790,"s":-130},{"p":"j)","t":810,"s":-120},{"p":"j)","t":830,"s":-100},{"p":"j)","t":850,"s":-140},{"p":"j)","t":870,"s":-120},{"p":"j)","t":890,"s":-100},{"p":"j)","t":910,"s":-140},{"p":"j)","t":930,"s":-130},{"p":"j)","t":950,"s":-100},{"p":"j)","t":970,"s":-120},{"p":"j)","t":990,"s":-140},
{"p":"k)","t":0,"s":-80,"d":-30},{"p":"k)","t":20,"s":-170,"d":-40},{"p":"k)","t":40,"s":-90,"d":-50},{"p":"k)","t":60,"s":-80,"d":-60},{"p":"k)","t":80,"s":-100,"d":120},{"p":"k)","t":100,"s":-130,"d":130},{"p":"k)","t":120,"s":-110,"d":120},{"p":"k)","t":140,"s":-90,"d":100},{"p":"k)","t":160,"s":-120,"d":-50},{"p":"k)","t":180,"s":-100,"d":-60},{"p":"k)","t":200,"s":-90,"d":110},{"p":"k)","t":220,"s":-130,"d":100},{"p":"k)","t":240,"s":-80,"d":130},{"p":"k)","t":260,"s":-140,"d":110},{"p":"k)","t":280,"s":-110,"d":140},{"p":"k)","t":300,"s":-120,"d":100},{"p":"k)","t":320,"s":-90,"d":110},{"p":"k)","t":340,"s":-130,"d":120},{"p":"k)","t":360,"s":-100,"d":100},{"p":"k)","t":380,"s":-70,"d":130},{"p":"k)","t":400,"s":-110,"d":110},{"p":"k)","t":420,"s":-130,"d":100},{"p":"k)","t":440,"s":-100,"d":120},{"p":"k)","t":460,"s":-80,"d":100},{"p":"k)","t":480,"s":-120,"d":110},{"p":"k)","t":500,"s":-90,"d":100},{"p":"k)","t":520,"s":-140,"d":-60},{"p":"k)","t":540,"s":-100,"d":120},{"p":"k)","t":560,"s":-130,"d":110},{"p":"k)","t":580,"s":-110,"d":90},{"p":"k)","t":600,"s":-160,"d":80},{"p":"k)","t":620,"s":-90,"d":110},{"p":"k)","t":640,"s":-120,"d":100},{"p":"k)","t":660,"s":-100,"d":120},{"p":"k)","t":680,"s":-140,"d":110},{"p":"k)","t":700,"s":-90,"d":100},{"p":"k)","t":720,"s":-110,"d":100},{"p":"k)","t":740,"s":-130,"d":90},{"p":"k)","t":760,"s":-100,"d":110},{"p":"k)","t":780,"s":-90,"d":100},{"p":"k)","t":800,"s":-170,"d":110},{"p":"k)","t":820,"s":-110,"d":90},{"p":"k)","t":840,"s":-100,"d":100},{"p":"k)","t":860,"s":-160,"d":40},{"p":"k)","t":880,"s":-90,"d":100},{"p":"k)","t":900,"s":-120,"d":110},{"p":"k)","t":920,"s":-100,"d":100},{"p":"k)","t":940,"s":40,"d":70},{"p":"k)","t":960,"s":30,"d":100},{"p":"k)","t":980,"s":-120,"d":110},{"p":"k)","t":1000,"s":-130,"d":60},{"p":"k)","t":110,"s":-170},{"p":"k)","t":618,"s":-100},{"p":"k)","t":622,"s":160},{"p":"k)","t":626,"s":-100},{"p":"k)","t":966,"s":-130},{"p":"k)","t":135,"d":20},{"p":"k)","t":170,"d":-60},{"p":"k)","t":190,"d":120},{"p":"k)","t":310,"d":30},{"p":"k)","t":455,"d":40},{"p":"k)","t":510,"d":-60},{"p":"k)","t":530,"d":100},{"p":"k)","t":590,"d":-50},{"p":"k)","t":715,"d":40},{"p":"k)","t":930,"d":-50},
{"p":"k)","t":10,"s":-70},{"p":"k)","t":30,"s":-130},{"p":"k)","t":50,"s":-100},{"p":"k)","t":70,"s":-130},{"p":"k)","t":90,"s":-80},{"p":"k)","t":130,"s":-90},{"p":"k)","t":150,"s":-140},{"p":"k)","t":170,"s":-100},{"p":"k)","t":190,"s":-130},{"p":"k)","t":210,"s":-110},{"p":"k)","t":230,"s":-100},{"p":"k)","t":250,"s":-110},{"p":"k)","t":270,"s":-90},{"p":"k)","t":290,"s":-130},{"p":"k)","t":310,"s":-100},{"p":"k)","t":330,"s":-110},{"p":"k)","t":350,"s":-90},{"p":"k)","t":370,"s":-130},{"p":"k)","t":390,"s":-100},{"p":"k)","t":410,"s":-90},{"p":"k)","t":430,"s":-110},{"p":"k)","t":450,"s":-130},{"p":"k)","t":470,"s":-110},{"p":"k)","t":490,"s":-140},{"p":"k)","t":510,"s":-110},{"p":"k)","t":530,"s":-100},{"p":"k)","t":550,"s":-140},{"p":"k)","t":570,"s":-90},{"p":"k)","t":590,"s":-120},{"p":"k)","t":610,"s":-110},{"p":"k)","t":630,"s":-130},{"p":"k)","t":650,"s":-90},{"p":"k)","t":670,"s":-110},{"p":"k)","t":690,"s":-120},{"p":"k)","t":710,"s":-140},{"p":"k)","t":730,"s":-90},{"p":"k)","t":750,"s":-110},{"p":"k)","t":770,"s":-140},{"p":"k)","t":790,"s":-120},{"p":"k)","t":810,"s":-110},{"p":"k)","t":830,"s":-140},{"p":"k)","t":850,"s":-110},{"p":"k)","t":870,"s":-120},{"p":"k)","t":890,"s":-140},{"p":"k)","t":910,"s":-100},{"p":"k)","t":930,"s":-20},{"p":"k)","t":950,"s":50},{"p":"k)","t":970,"s":-140},{"p":"k)","t":990,"s":-110},
{"p":"l)","t":0,"s":-70,"d":-40},{"p":"l)","t":20,"s":-90,"d":80},{"p":"l)","t":40,"s":-120,"d":90},{"p":"l)","t":60,"s":-60,"d":-40},{"p":"l)","t":80,"s":-110,"d":110},{"p":"l)","t":100,"s":-160,"d":170},{"p":"l)","t":120,"s":-100,"d":120},{"p":"l)","t":140,"s":-170,"d":-50},{"p":"l)","t":160,"s":-90,"d":-40},{"p":"l)","t":180,"s":-120,"d":120},{"p":"l)","t":200,"s":-100,"d":110},{"p":"l)","t":220,"s":-80,"d":100},{"p":"l)","t":240,"s":-140,"d":120},{"p":"l)","t":260,"s":-100,"d":110},{"p":"l)","t":280,"s":-80,"d":100},{"p":"l)","t":300,"s":-130,"d":120},{"p":"l)","t":320,"s":-170,"d":-150},{"p":"l)","t":340,"s":-100,"d":140},{"p":"l)","t":360,"s":-90,"d":110},{"p":"l)","t":380,"s":-150,"d":100},{"p":"l)","t":400,"s":-110,"d":90},{"p":"l)","t":420,"s":-90,"d":110},{"p":"l)","t":440,"s":-100,"d":120},{"p":"l)","t":460,"s":-130,"d":-60},{"p":"l)","t":480,"s":-90,"d":-40},{"p":"l)","t":500,"s":-120,"d":110},{"p":"l)","t":520,"s":-100,"d":100},{"p":"l)","t":540,"s":-140,"d":120},{"p":"l)","t":560,"s":-170,"d":90},{"p":"l)","t":580,"s":-110,"d":-50},{"p":"l)","t":600,"s":-90,"d":-60},{"p":"l)","t":620,"s":-130,"d":-50},{"p":"l)","t":640,"s":-110,"d":-30},{"p":"l)","t":660,"s":-80,"d":-60},{"p":"l)","t":680,"s":-120,"d":-40},{"p":"l)","t":700,"s":-100,"d":20},{"p":"l)","t":720,"s":-90,"d":-50},{"p":"l)","t":740,"s":-140,"d":0},{"p":"l)","t":760,"s":-110,"d":-50},{"p":"l)","t":780,"s":-100,"d":-60},{"p":"l)","t":800,"s":-160,"d":-70},{"p":"l)","t":820,"s":-110,"d":120},{"p":"l)","t":840,"s":-90,"d":100},{"p":"l)","t":860,"s":-130,"d":110},{"p":"l)","t":880,"s":-100,"d":90},{"p":"l)","t":900,"s":-120,"d":110},{"p":"l)","t":920,"s":-90,"d":100},{"p":"l)","t":940,"s":-140,"d":120},{"p":"l)","t":960,"s":-110,"d":110},{"p":"l)","t":980,"s":-170,"d":80},{"p":"l)","t":1000,"s":-90,"d":120},{"p":"l)","t":30,"d":-30},{"p":"l)","t":50,"d":-30},{"p":"l)","t":170,"d":120},{"p":"l)","t":295,"d":0},{"p":"l)","t":310,"d":150},{"p":"l)","t":330,"d":140},{"p":"l)","t":570,"d":-60},{"p":"l)","t":610,"d":50},{"p":"l)","t":870,"d":-50},{"p":"l)","t":990,"d":-80},
{"p":"l)","t":10,"s":-80},{"p":"l)","t":30,"s":-60},{"p":"l)","t":50,"s":-100},{"p":"l)","t":70,"s":-130},{"p":"l)","t":90,"s":-90},{"p":"l)","t":110,"s":-120},{"p":"l)","t":130,"s":-90},{"p":"l)","t":150,"s":-110},{"p":"l)","t":170,"s":-140},{"p":"l)","t":190,"s":-90},{"p":"l)","t":210,"s":-140},{"p":"l)","t":230,"s":-110},{"p":"l)","t":250,"s":-90},{"p":"l)","t":270,"s":-130},{"p":"l)","t":290,"s":-100},{"p":"l)","t":310,"s":-110},{"p":"l)","t":330,"s":-120},{"p":"l)","t":350,"s":-140},{"p":"l)","t":370,"s":-110},{"p":"l)","t":390,"s":-90},{"p":"l)","t":410,"s":-130},{"p":"l)","t":430,"s":-120},{"p":"l)","t":450,"s":-90},{"p":"l)","t":470,"s":-100},{"p":"l)","t":490,"s":-140},{"p":"l)","t":510,"s":-90},{"p":"l)","t":530,"s":-130},{"p":"l)","t":550,"s":-100},{"p":"l)","t":570,"s":-120},{"p":"l)","t":590,"s":-140},{"p":"l)","t":610,"s":-100},{"p":"l)","t":630,"s":-90},{"p":"l)","t":650,"s":-140},{"p":"l)","t":670,"s":-110},{"p":"l)","t":690,"s":-90},{"p":"l)","t":710,"s":-130},{"p":"l)","t":730,"s":-110},{"p":"l)","t":750,"s":-100},{"p":"l)","t":770,"s":-130},{"p":"l)","t":790,"s":-90},{"p":"l)","t":810,"s":-120},{"p":"l)","t":830,"s":-140},{"p":"l)","t":850,"s":-100},{"p":"l)","t":870,"s":-90},{"p":"l)","t":890,"s":-140},{"p":"l)","t":910,"s":-100},{"p":"l)","t":930,"s":-130},{"p":"l)","t":950,"s":-100},{"p":"l)","t":970,"s":-130},{"p":"l)","t":990,"s":-120},
{"p":"m)","t":0,"s":-70,"d":-30},{"p":"m)","t":20,"s":-160,"d":-50},{"p":"m)","t":40,"s":-80,"d":-40},{"p":"m)","t":60,"s":-100,"d":100},{"p":"m)","t":80,"s":-140,"d":140},{"p":"m)","t":100,"s":-90,"d":120},{"p":"m)","t":120,"s":-130,"d":110},{"p":"m)","t":140,"s":-80,"d":130},{"p":"m)","t":160,"s":-120,"d":110},{"p":"m)","t":180,"s":-90,"d":-30},{"p":"m)","t":200,"s":-150,"d":110},{"p":"m)","t":220,"s":-100,"d":130},{"p":"m)","t":240,"s":-130,"d":120},{"p":"m)","t":260,"s":-90,"d":110},{"p":"m)","t":280,"s":-140,"d":130},{"p":"m)","t":300,"s":60,"d":100},{"p":"m)","t":320,"s":-150,"d":120},{"p":"m)","t":340,"s":60,"d":90},{"p":"m)","t":360,"s":60,"d":110},{"p":"m)","t":380,"s":-110,"d":120},{"p":"m)","t":400,"s":-120,"d":-55},{"p":"m)","t":420,"s":-90,"d":100},{"p":"m)","t":440,"s":-150,"d":130},{"p":"m)","t":460,"s":-100,"d":120},{"p":"m)","t":480,"s":-130,"d":110},{"p":"m)","t":500,"s":-90,"d":140},{"p":"m)","t":520,"s":-160,"d":120},{"p":"m)","t":540,"s":-110,"d":130},{"p":"m)","t":560,"s":-170,"d":110},{"p":"m)","t":580,"s":-100,"d":-10},{"p":"m)","t":600,"s":-130,"d":-40},{"p":"m)","t":620,"s":-80,"d":-50},{"p":"m)","t":640,"s":-110,"d":-40},{"p":"m)","t":660,"s":-90,"d":-50},{"p":"m)","t":680,"s":-100,"d":-60},{"p":"m)","t":700,"s":-80,"d":-40},{"p":"m)","t":720,"s":-90,"d":-50},{"p":"m)","t":740,"s":-100,"d":-10},{"p":"m)","t":760,"s":-170,"d":100},{"p":"m)","t":780,"s":-110,"d":110},{"p":"m)","t":800,"s":-140,"d":100},{"p":"m)","t":820,"s":-120,"d":-60},{"p":"m)","t":840,"s":-80,"d":-60},{"p":"m)","t":860,"s":-130,"d":100},{"p":"m)","t":880,"s":-100,"d":110},{"p":"m)","t":900,"s":-150,"d":120},{"p":"m)","t":920,"s":-110,"d":110},{"p":"m)","t":940,"s":-90,"d":130},{"p":"m)","t":960,"s":-130,"d":100},{"p":"m)","t":980,"s":-100,"d":110},{"p":"m)","t":1000,"s":-80,"d":90},{"p":"m)","t":45,"s":140},{"p":"m)","t":50,"s":-120,"d":90},{"p":"m)","t":292,"s":-130},{"p":"m)","t":310,"s":70},{"p":"m)","t":316,"s":60},{"p":"m)","t":325,"s":60},{"p":"m)","t":330,"s":60},{"p":"m)","t":370,"s":60},{"p":"m)","t":375,"s":-110},{"p":"m)","t":452,"s":-120},{"p":"m)","t":455,"s":160},{"p":"m)","t":170,"d":-40},{"p":"m)","t":190,"d":-40},{"p":"m)","t":230,"d":-170},{"p":"m)","t":395,"d":-60},{"p":"m)","t":490,"d":0},{"p":"m)","t":570,"d":-40},{"p":"m)","t":725,"d":40},{"p":"m)","t":905,"d":40},
{"p":"m)","t":10,"s":-110},{"p":"m)","t":30,"s":-90},{"p":"m)","t":70,"s":-120},{"p":"m)","t":90,"s":-100},{"p":"m)","t":110,"s":-140},{"p":"m)","t":130,"s":-100},{"p":"m)","t":150,"s":-130},{"p":"m)","t":170,"s":-100},{"p":"m)","t":190,"s":-130},{"p":"m)","t":210,"s":-110},{"p":"m)","t":230,"s":-140},{"p":"m)","t":250,"s":-110},{"p":"m)","t":270,"s":-100},{"p":"m)","t":350,"s":50},{"p":"m)","t":390,"s":-90},{"p":"m)","t":410,"s":-140},{"p":"m)","t":430,"s":-110},{"p":"m)","t":470,"s":-140},{"p":"m)","t":490,"s":-110},{"p":"m)","t":510,"s":-120},{"p":"m)","t":530,"s":-100},{"p":"m)","t":550,"s":-130},{"p":"m)","t":570,"s":-110},{"p":"m)","t":590,"s":-140},{"p":"m)","t":610,"s":-100},{"p":"m)","t":630,"s":-110},{"p":"m)","t":650,"s":-130},{"p":"m)","t":670,"s":-80},{"p":"m)","t":690,"s":-120},{"p":"m)","t":710,"s":-90},{"p":"m)","t":730,"s":-100},{"p":"m)","t":750,"s":-120},{"p":"m)","t":770,"s":-90},{"p":"m)","t":790,"s":-130},{"p":"m)","t":810,"s":-100},{"p":"m)","t":830,"s":-90},{"p":"m)","t":850,"s":-120},{"p":"m)","t":870,"s":-100},{"p":"m)","t":890,"s":-90},{"p":"m)","t":910,"s":-130},{"p":"m)","t":930,"s":-100},{"p":"m)","t":950,"s":-120},{"p":"m)","t":970,"s":-90},{"p":"m)","t":990,"s":-130},
{"p":"n)","t":0,"s":-70,"d":-30},{"p":"n)","t":20,"s":-80,"d":-40},{"p":"n)","t":40,"s":-120,"d":60},{"p":"n)","t":60,"s":-170,"d":120},{"p":"n)","t":80,"s":-110,"d":110},{"p":"n)","t":100,"s":-140,"d":130},{"p":"n)","t":120,"s":-100,"d":110},{"p":"n)","t":140,"s":-150,"d":40},{"p":"n)","t":160,"s":-90,"d":130},{"p":"n)","t":180,"s":-130,"d":110},{"p":"n)","t":200,"s":-70,"d":-60},{"p":"n)","t":220,"s":-120,"d":120},{"p":"n)","t":240,"s":-100,"d":110},{"p":"n)","t":260,"s":-140,"d":100},{"p":"n)","t":280,"s":-110,"d":120},{"p":"n)","t":300,"s":-90,"d":110},{"p":"n)","t":320,"s":-160,"d":90},{"p":"n)","t":340,"s":-120,"d":100},{"p":"n)","t":360,"s":-100,"d":120},{"p":"n)","t":380,"s":-60,"d":130},{"p":"n)","t":400,"s":-130,"d":110},{"p":"n)","t":420,"s":-100,"d":120},{"p":"n)","t":440,"s":-140,"d":-40},{"p":"n)","t":460,"s":-90,"d":60},{"p":"n)","t":480,"s":-170,"d":-60},{"p":"n)","t":500,"s":-100,"d":100},{"p":"n)","t":520,"s":-130,"d":130},{"p":"n)","t":540,"s":-110,"d":110},{"p":"n)","t":560,"s":-170,"d":-60},{"p":"n)","t":580,"s":-90,"d":-40},{"p":"n)","t":600,"s":-100,"d":-50},{"p":"n)","t":620,"s":-80,"d":-60},{"p":"n)","t":640,"s":-90,"d":-40},{"p":"n)","t":660,"s":-100,"d":-50},{"p":"n)","t":680,"s":-80,"d":40},{"p":"n)","t":700,"s":-110,"d":-50},{"p":"n)","t":720,"s":-170,"d":-60},{"p":"n)","t":740,"s":-120,"d":-50},{"p":"n)","t":760,"s":-100,"d":-50},{"p":"n)","t":780,"s":-140,"d":-60},{"p":"n)","t":800,"s":-120,"d":-70},{"p":"n)","t":820,"s":-170,"d":-80},{"p":"n)","t":840,"s":-100,"d":-40},{"p":"n)","t":860,"s":-170,"d":110},{"p":"n)","t":880,"s":-100,"d":-60},{"p":"n)","t":900,"s":-130,"d":120},{"p":"n)","t":920,"s":-110,"d":100},{"p":"n)","t":940,"s":-100,"d":-60},{"p":"n)","t":960,"s":-120,"d":90},{"p":"n)","t":980,"s":-90,"d":130},{"p":"n)","t":1000,"s":-130,"d":-40},{"p":"n)","t":816,"s":-80},{"p":"n)","t":818,"s":160},{"p":"n)","t":150,"d":120},{"p":"n)","t":210,"d":100},{"p":"n)","t":435,"d":120},{"p":"n)","t":450,"d":-50},{"p":"n)","t":730,"d":40},{"p":"n)","t":750,"d":50},{"p":"n)","t":870,"d":120},
{"p":"n)","t":10,"s":-60},{"p":"n)","t":30,"s":-90},{"p":"n)","t":50,"s":-140},{"p":"n)","t":70,"s":-120},{"p":"n)","t":90,"s":-160},{"p":"n)","t":110,"s":-110},{"p":"n)","t":130,"s":-120},{"p":"n)","t":150,"s":-100},{"p":"n)","t":170,"s":-110},{"p":"n)","t":190,"s":-90},{"p":"n)","t":210,"s":-110},{"p":"n)","t":230,"s":-80},{"p":"n)","t":250,"s":-140},{"p":"n)","t":270,"s":-100},{"p":"n)","t":290,"s":-130},{"p":"n)","t":310,"s":-110},{"p":"n)","t":330,"s":-100},{"p":"n)","t":350,"s":-140},{"p":"n)","t":370,"s":-90},{"p":"n)","t":390,"s":-110},{"p":"n)","t":410,"s":-90},{"p":"n)","t":430,"s":-130},{"p":"n)","t":450,"s":-110},{"p":"n)","t":470,"s":-140},{"p":"n)","t":490,"s":-100},{"p":"n)","t":510,"s":-130},{"p":"n)","t":530,"s":-100},{"p":"n)","t":550,"s":-140},{"p":"n)","t":570,"s":-110},{"p":"n)","t":590,"s":-130},{"p":"n)","t":610,"s":-100},{"p":"n)","t":630,"s":-120},{"p":"n)","t":650,"s":-80},{"p":"n)","t":670,"s":-110},{"p":"n)","t":690,"s":-90},{"p":"n)","t":710,"s":-120},{"p":"n)","t":730,"s":-110},{"p":"n)","t":750,"s":-140},{"p":"n)","t":770,"s":-110},{"p":"n)","t":790,"s":-100},{"p":"n)","t":810,"s":-130},{"p":"n)","t":830,"s":-140},{"p":"n)","t":850,"s":-110},{"p":"n)","t":870,"s":-130},{"p":"n)","t":890,"s":-110},{"p":"n)","t":910,"s":-90},{"p":"n)","t":930,"s":-130},{"p":"n)","t":950,"s":-110},{"p":"n)","t":970,"s":-90},{"p":"n)","t":990,"s":-110},
{"p":"o)","t":0,"s":-50,"d":-40},{"p":"o)","t":20,"s":-100,"d":100},{"p":"o)","t":40,"s":-120,"d":120},{"p":"o)","t":60,"s":-90,"d":110},{"p":"o)","t":80,"s":-160,"d":90},{"p":"o)","t":100,"s":-100,"d":130},{"p":"o)","t":120,"s":-130,"d":110},{"p":"o)","t":140,"s":-80,"d":-40},{"p":"o)","t":160,"s":-170,"d":110},{"p":"o)","t":180,"s":-110,"d":120},{"p":"o)","t":200,"s":-90,"d":130},{"p":"o)","t":220,"s":-140,"d":110},{"p":"o)","t":240,"s":-100,"d":120},{"p":"o)","t":260,"s":-150,"d":130},{"p":"o)","t":280,"s":-90,"d":-20},{"p":"o)","t":300,"s":-110,"d":0},{"p":"o)","t":320,"s":-130,"d":-10},{"p":"o)","t":340,"s":-90,"d":120},{"p":"o)","t":360,"s":-120,"d":100},{"p":"o)","t":380,"s":-150,"d":130},{"p":"o)","t":400,"s":-100,"d":30},{"p":"o)","t":420,"s":-130,"d":140},{"p":"o)","t":440,"s":-160,"d":110},{"p":"o)","t":460,"s":-110,"d":120},{"p":"o)","t":480,"s":-90,"d":100},{"p":"o)","t":500,"s":-120,"d":110},{"p":"o)","t":520,"s":-100,"d":130},{"p":"o)","t":540,"s":-130,"d":110},{"p":"o)","t":560,"s":-80,"d":50},{"p":"o)","t":580,"s":-100,"d":30},{"p":"o)","t":600,"s":-120,"d":-60},{"p":"o)","t":620,"s":-90,"d":-50},{"p":"o)","t":640,"s":-70,"d":-40},{"p":"o)","t":660,"s":-100,"d":-50},{"p":"o)","t":680,"s":-80,"d":-60},{"p":"o)","t":700,"s":-90,"d":-40},{"p":"o)","t":720,"s":-110,"d":70},{"p":"o)","t":740,"s":-150,"d":-50},{"p":"o)","t":760,"s":-170,"d":20},{"p":"o)","t":780,"s":-100,"d":-60},{"p":"o)","t":800,"s":-90,"d":-50},{"p":"o)","t":820,"s":-110,"d":-40},{"p":"o)","t":840,"s":-120,"d":-60},{"p":"o)","t":860,"s":-100,"d":-50},{"p":"o)","t":880,"s":-140,"d":-40},{"p":"o)","t":900,"s":-90,"d":-60},{"p":"o)","t":920,"s":-110,"d":-50},{"p":"o)","t":940,"s":-100,"d":-40},{"p":"o)","t":960,"s":-130,"d":-60},{"p":"o)","t":980,"s":-170,"d":-30},{"p":"o)","t":1000,"s":-90,"d":-60},{"p":"o)","t":30,"d":130},{"p":"o)","t":50,"d":140},{"p":"o)","t":70,"d":-60},{"p":"o)","t":130,"d":-50},{"p":"o)","t":270,"d":-30},{"p":"o)","t":310,"d":80},{"p":"o)","t":330,"d":110},{"p":"o)","t":410,"d":120},{"p":"o)","t":550,"d":-40},{"p":"o)","t":575,"d":-50},{"p":"o)","t":655,"d":80},{"p":"o)","t":870,"d":60},{"p":"o)","t":985,"d":60},
{"p":"o)","t":10,"s":-80},{"p":"o)","t":30,"s":-90},{"p":"o)","t":50,"s":-140},{"p":"o)","t":70,"s":-110},{"p":"o)","t":90,"s":-120},{"p":"o)","t":110,"s":-90},{"p":"o)","t":130,"s":-110},{"p":"o)","t":150,"s":-120},{"p":"o)","t":170,"s":-100},{"p":"o)","t":190,"s":-140},{"p":"o)","t":210,"s":-120},{"p":"o)","t":230,"s":-90},{"p":"o)","t":250,"s":-120},{"p":"o)","t":270,"s":-130},{"p":"o)","t":290,"s":-130},{"p":"o)","t":310,"s":-90},{"p":"o)","t":330,"s":-110},{"p":"o)","t":350,"s":-140},{"p":"o)","t":370,"s":-100},{"p":"o)","t":390,"s":-110},{"p":"o)","t":410,"s":-140},{"p":"o)","t":430,"s":-110},{"p":"o)","t":450,"s":-130},{"p":"o)","t":470,"s":-140},{"p":"o)","t":490,"s":-110},{"p":"o)","t":510,"s":-150},{"p":"o)","t":530,"s":-110},{"p":"o)","t":550,"s":-120},{"p":"o)","t":570,"s":-100},{"p":"o)","t":590,"s":-130},{"p":"o)","t":610,"s":-80},{"p":"o)","t":630,"s":-100},{"p":"o)","t":650,"s":-110},{"p":"o)","t":670,"s":-80},{"p":"o)","t":690,"s":-110},{"p":"o)","t":710,"s":-80},{"p":"o)","t":730,"s":-100},{"p":"o)","t":750,"s":-130},{"p":"o)","t":770,"s":-110},{"p":"o)","t":790,"s":-130},{"p":"o)","t":810,"s":-80},{"p":"o)","t":830,"s":-130},{"p":"o)","t":850,"s":-90},{"p":"o)","t":870,"s":-120},{"p":"o)","t":890,"s":-100},{"p":"o)","t":910,"s":-120},{"p":"o)","t":930,"s":-90},{"p":"o)","t":950,"s":-110},{"p":"o)","t":970,"s":-120},{"p":"o)","t":990,"s":-140},
{"p":"p)","t":0,"s":-70,"d":-40},{"p":"p)","t":20,"s":-170,"d":-30},{"p":"p)","t":40,"s":-90,"d":-50},{"p":"p)","t":60,"s":-150,"d":-40},{"p":"p)","t":80,"s":-100,"d":-50},{"p":"p)","t":100,"s":-120,"d":-40},{"p":"p)","t":120,"s":-90,"d":-50},{"p":"p)","t":140,"s":-110,"d":-40},{"p":"p)","t":160,"s":-80,"d":-50},{"p":"p)","t":180,"s":-160,"d":-30},{"p":"p)","t":200,"s":-100,"d":110},{"p":"p)","t":220,"s":-120,"d":130},{"p":"p)","t":240,"s":-90,"d":100},{"p":"p)","t":260,"s":-110,"d":120},{"p":"p)","t":280,"s":-70,"d":-30},{"p":"p)","t":300,"s":-140,"d":-60},{"p":"p)","t":320,"s":-100,"d":-50},{"p":"p)","t":340,"s":-150,"d":140},{"p":"p)","t":360,"s":-90,"d":130},{"p":"p)","t":380,"s":-120,"d":120},{"p":"p)","t":400,"s":-100,"d":-50},{"p":"p)","t":420,"s":-160,"d":120},{"p":"p)","t":440,"s":-110,"d":-60},{"p":"p)","t":460,"s":-90,"d":-50},{"p":"p)","t":480,"s":-130,"d":130},{"p":"p)","t":500,"s":-100,"d":110},{"p":"p)","t":520,"s":-80,"d":120},{"p":"p)","t":540,"s":-110,"d":-50},{"p":"p)","t":560,"s":-90,"d":-70},{"p":"p)","t":580,"s":-110,"d":-40},{"p":"p)","t":600,"s":-90,"d":90},{"p":"p)","t":620,"s":-100,"d":110},{"p":"p)","t":640,"s":-130,"d":120},{"p":"p)","t":660,"s":-170,"d":100},{"p":"p)","t":680,"s":-110,"d":110},{"p":"p)","t":700,"s":-130,"d":120},{"p":"p)","t":720,"s":-100,"d":-50},{"p":"p)","t":740,"s":-120,"d":-40},{"p":"p)","t":760,"s":-90,"d":-50},{"p":"p)","t":780,"s":-110,"d":-60},{"p":"p)","t":800,"s":-130,"d":-50},{"p":"p)","t":820,"s":-100,"d":-60},{"p":"p)","t":840,"s":-90,"d":-40},{"p":"p)","t":860,"s":-110,"d":-50},{"p":"p)","t":880,"s":-170,"d":-60},{"p":"p)","t":900,"s":-100,"d":-50},{"p":"p)","t":920,"s":-120,"d":-40},{"p":"p)","t":940,"s":-100,"d":-50},{"p":"p)","t":960,"s":-160,"d":-60},{"p":"p)","t":980,"s":-170,"d":-50},{"p":"p)","t":1000,"s":-110,"d":-60},{"p":"p)","t":562,"s":170},{"p":"p)","t":564,"s":-70},{"p":"p)","t":10,"d":80},{"p":"p)","t":75,"d":20},{"p":"p)","t":95,"d":10},{"p":"p)","t":125,"d":0},{"p":"p)","t":175,"d":60},{"p":"p)","t":265,"d":-40},{"p":"p)","t":365,"d":30},{"p":"p)","t":370,"d":150},{"p":"p)","t":390,"d":-40},{"p":"p)","t":410,"d":-40},{"p":"p)","t":430,"d":-50},{"p":"p)","t":470,"d":120},{"p":"p)","t":530,"d":-40},{"p":"p)","t":655,"d":-170},{"p":"p)","t":715,"d":-50},{"p":"p)","t":805,"d":20},{"p":"p)","t":895,"d":40},{"p":"p)","t":945,"d":40},
{"p":"p)","t":10,"s":-120},{"p":"p)","t":30,"s":-100},{"p":"p)","t":50,"s":-160},{"p":"p)","t":70,"s":-110},{"p":"p)","t":90,"s":-80},{"p":"p)","t":110,"s":-90},{"p":"p)","t":130,"s":-130},{"p":"p)","t":150,"s":-90},{"p":"p)","t":170,"s":-110},{"p":"p)","t":190,"s":-100},{"p":"p)","t":210,"s":-130},{"p":"p)","t":230,"s":-100},{"p":"p)","t":250,"s":-130},{"p":"p)","t":270,"s":-100},{"p":"p)","t":290,"s":-120},{"p":"p)","t":310,"s":-110},{"p":"p)","t":330,"s":-90},{"p":"p)","t":350,"s":-110},{"p":"p)","t":370,"s":-140},{"p":"p)","t":390,"s":-90},{"p":"p)","t":410,"s":-120},{"p":"p)","t":430,"s":-90},{"p":"p)","t":450,"s":-140},{"p":"p)","t":470,"s":-110},{"p":"p)","t":490,"s":-100},{"p":"p)","t":510,"s":-130},{"p":"p)","t":530,"s":-100},{"p":"p)","t":550,"s":-130},{"p":"p)","t":570,"s":-100},{"p":"p)","t":590,"s":-140},{"p":"p)","t":610,"s":-120},{"p":"p)","t":630,"s":-100},{"p":"p)","t":650,"s":-140},{"p":"p)","t":670,"s":-100},{"p":"p)","t":690,"s":-120},{"p":"p)","t":710,"s":-90},{"p":"p)","t":730,"s":-130},{"p":"p)","t":750,"s":-100},{"p":"p)","t":770,"s":-130},{"p":"p)","t":790,"s":-90},{"p":"p)","t":810,"s":-120},{"p":"p)","t":830,"s":-140},{"p":"p)","t":850,"s":-120},{"p":"p)","t":870,"s":-100},{"p":"p)","t":890,"s":-120},{"p":"p)","t":910,"s":-90},{"p":"p)","t":930,"s":-140},{"p":"p)","t":950,"s":-120},{"p":"p)","t":970,"s":-110},{"p":"p)","t":990,"s":-150},
{"p":"q)","t":0,"s":-70,"d":-40},{"p":"q)","t":20,"s":-150,"d":-30},{"p":"q)","t":40,"s":-120,"d":150},{"p":"q)","t":60,"s":-110,"d":110},{"p":"q)","t":80,"s":-90,"d":0},{"p":"q)","t":100,"s":-80,"d":-50},{"p":"q)","t":120,"s":-100,"d":-40},{"p":"q)","t":140,"s":-70,"d":-50},{"p":"q)","t":160,"s":-90,"d":-40},{"p":"q)","t":180,"s":-150,"d":-60},{"p":"q)","t":200,"s":-80,"d":-40},{"p":"q)","t":220,"s":-110,"d":-50},{"p":"q)","t":240,"s":-90,"d":-30},{"p":"q)","t":260,"s":-130,"d":60},{"p":"q)","t":280,"s":-70,"d":-50},{"p":"q)","t":300,"s":-100,"d":-40},{"p":"q)","t":320,"s":-120,"d":-50},{"p":"q)","t":340,"s":-160,"d":-40},{"p":"q)","t":360,"s":-70,"d":-50},{"p":"q)","t":380,"s":-90,"d":-40},{"p":"q)","t":400,"s":-80,"d":-40},{"p":"q)","t":420,"s":-100,"d":-50},{"p":"q)","t":440,"s":-110,"d":130},{"p":"q)","t":460,"s":-170,"d":-40},{"p":"q)","t":480,"s":-90,"d":-50},{"p":"q)","t":500,"s":-120,"d":-40},{"p":"q)","t":520,"s":-80,"d":-10},{"p":"q)","t":540,"s":-110,"d":-40},{"p":"q)","t":560,"s":-90,"d":-50},{"p":"q)","t":580,"s":-140,"d":70},{"p":"q)","t":600,"s":-130,"d":-40},{"p":"q)","t":620,"s":-80,"d":-30},{"p":"q)","t":640,"s":-90,"d":-50},{"p":"q)","t":660,"s":-70,"d":-40},{"p":"q)","t":680,"s":-100,"d":-60},{"p":"q)","t":700,"s":-80,"d":-40},{"p":"q)","t":720,"s":-170,"d":-50},{"p":"q)","t":740,"s":-90,"d":10},{"p":"q)","t":760,"s":-70,"d":-40},{"p":"q)","t":780,"s":-100,"d":-50},{"p":"q)","t":800,"s":-140,"d":-40},{"p":"q)","t":820,"s":-90,"d":-50},{"p":"q)","t":840,"s":-80,"d":-40},{"p":"q)","t":860,"s":-110,"d":-60},{"p":"q)","t":880,"s":-100,"d":-50},{"p":"q)","t":900,"s":-140,"d":0},{"p":"q)","t":920,"s":-80,"d":-50},{"p":"q)","t":940,"s":-100,"d":-40},{"p":"q)","t":960,"s":-120,"d":-60},{"p":"q)","t":980,"s":-90,"d":-30},{"p":"q)","t":1000,"s":-80,"d":-60},{"p":"q)","t":10,"s":170},{"p":"q)","t":870,"s":-170,"d":10},{"p":"q)","t":30,"d":100},{"p":"q)","t":50,"d":110},{"p":"q)","t":70,"d":-30},{"p":"q)","t":85,"d":50},{"p":"q)","t":90,"d":-30},{"p":"q)","t":270,"d":-40},{"p":"q)","t":310,"d":60},{"p":"q)","t":390,"d":30},{"p":"q)","t":450,"d":120},{"p":"q)","t":590,"d":60},{"p":"q)","t":975,"d":0},
{"p":"q)","t":30,"s":-130},{"p":"q)","t":50,"s":-100},{"p":"q)","t":70,"s":-130},{"p":"q)","t":90,"s":-70},{"p":"q)","t":110,"s":-100},{"p":"q)","t":130,"s":-60},{"p":"q)","t":150,"s":-110},{"p":"q)","t":170,"s":-100},{"p":"q)","t":190,"s":-100},{"p":"q)","t":210,"s":-130},{"p":"q)","t":230,"s":-70},{"p":"q)","t":250,"s":-110},{"p":"q)","t":270,"s":-100},{"p":"q)","t":290,"s":-90},{"p":"q)","t":310,"s":-80},{"p":"q)","t":330,"s":-100},{"p":"q)","t":350,"s":-80},{"p":"q)","t":370,"s":-110},{"p":"q)","t":390,"s":-90},{"p":"q)","t":410,"s":-120},{"p":"q)","t":430,"s":-80},{"p":"q)","t":450,"s":-120},{"p":"q)","t":470,"s":-110},{"p":"q)","t":490,"s":-100},{"p":"q)","t":510,"s":-130},{"p":"q)","t":530,"s":-90},{"p":"q)","t":550,"s":-80},{"p":"q)","t":570,"s":-100},{"p":"q)","t":590,"s":-150},{"p":"q)","t":610,"s":-100},{"p":"q)","t":630,"s":-100},{"p":"q)","t":650,"s":-80},{"p":"q)","t":670,"s":-90},{"p":"q)","t":690,"s":-70},{"p":"q)","t":710,"s":-120},{"p":"q)","t":730,"s":-130},{"p":"q)","t":750,"s":-80},{"p":"q)","t":770,"s":-90},{"p":"q)","t":790,"s":-80},{"p":"q)","t":810,"s":-110},{"p":"q)","t":830,"s":-70},{"p":"q)","t":850,"s":-100},{"p":"q)","t":890,"s":-80},{"p":"q)","t":910,"s":-100},{"p":"q)","t":930,"s":-120},{"p":"q)","t":950,"s":-80},{"p":"q)","t":970,"s":-110},{"p":"q)","t":990,"s":-100},
{"p":"r)","t":0,"s":-60,"d":-40},{"p":"r)","t":20,"s":-110,"d":-40},{"p":"r)","t":40,"s":-150,"d":-50},{"p":"r)","t":60,"s":-80,"d":-40},{"p":"r)","t":80,"s":-120,"d":-30},{"p":"r)","t":100,"s":-70,"d":-50},{"p":"r)","t":120,"s":-90,"d":-40},{"p":"r)","t":140,"s":-110,"d":100},{"p":"r)","t":160,"s":-80,"d":-40},{"p":"r)","t":180,"s":-70,"d":-50},{"p":"r)","t":200,"s":-90,"d":-40},{"p":"r)","t":220,"s":-80,"d":-60},{"p":"r)","t":240,"s":-100,"d":-40},{"p":"r)","t":260,"s":-70,"d":-50},{"p":"r)","t":280,"s":-90,"d":-50},{"p":"r)","t":300,"s":-80,"d":-40},{"p":"r)","t":320,"s":-90,"d":-50},{"p":"r)","t":340,"s":-70,"d":-40},{"p":"r)","t":360,"s":-100,"d":-60},{"p":"r)","t":380,"s":-80,"d":-40},{"p":"r)","t":400,"s":-90,"d":-50},{"p":"r)","t":420,"s":-70,"d":-40},{"p":"r)","t":440,"s":-180,"d":-60},{"p":"r)","t":460,"s":-90,"d":-40},{"p":"r)","t":480,"s":-70,"d":-50},{"p":"r)","t":500,"s":-100,"d":-40},{"p":"r)","t":520,"s":-80,"d":-30},{"p":"r)","t":540,"s":-90,"d":-50},{"p":"r)","t":560,"s":-70,"d":-40},{"p":"r)","t":580,"s":-100,"d":-50},{"p":"r)","t":600,"s":-180,"d":-40},{"p":"r)","t":620,"s":-90,"d":10},{"p":"r)","t":640,"s":-80,"d":-50},{"p":"r)","t":660,"s":-70,"d":-40},{"p":"r)","t":680,"s":-90,"d":-60},{"p":"r)","t":700,"s":-80,"d":-40},{"p":"r)","t":720,"s":-100,"d":-50},{"p":"r)","t":740,"s":-70,"d":-60},{"p":"r)","t":760,"s":-90,"d":-40},{"p":"r)","t":780,"s":-80,"d":-50},{"p":"r)","t":800,"s":-140,"d":-50},{"p":"r)","t":820,"s":-90,"d":-40},{"p":"r)","t":840,"s":-80,"d":-60},{"p":"r)","t":860,"s":-100,"d":-50},{"p":"r)","t":880,"s":-70,"d":-40},{"p":"r)","t":900,"s":-90,"d":-60},{"p":"r)","t":920,"s":-100,"d":-40},{"p":"r)","t":940,"s":-80,"d":-50},{"p":"r)","t":960,"s":-110,"d":-60},{"p":"r)","t":980,"s":-170,"d":-50},{"p":"r)","t":1000,"s":-90,"d":-70},{"p":"r)","t":310,"s":-170},{"p":"r)","t":15,"d":20},{"p":"r)","t":70,"d":20},{"p":"r)","t":130,"d":80},{"p":"r)","t":150,"d":90},{"p":"r)","t":265,"d":30},{"p":"r)","t":315,"d":40},{"p":"r)","t":795,"d":30},
{"p":"r)","t":10,"s":-80},{"p":"r)","t":30,"s":-90},{"p":"r)","t":50,"s":-120},{"p":"r)","t":70,"s":-100},{"p":"r)","t":90,"s":-80},{"p":"r)","t":110,"s":-90},{"p":"r)","t":130,"s":-70},{"p":"r)","t":150,"s":-90},{"p":"r)","t":170,"s":-100},{"p":"r)","t":190,"s":-80},{"p":"r)","t":210,"s":-70},{"p":"r)","t":230,"s":-100},{"p":"r)","t":250,"s":-80},{"p":"r)","t":270,"s":-100},{"p":"r)","t":290,"s":-70},{"p":"r)","t":330,"s":-100},{"p":"r)","t":350,"s":-80},{"p":"r)","t":370,"s":-70},{"p":"r)","t":390,"s":-100},{"p":"r)","t":410,"s":-80},{"p":"r)","t":430,"s":-100},{"p":"r)","t":450,"s":-120},{"p":"r)","t":470,"s":-80},{"p":"r)","t":490,"s":-90},{"p":"r)","t":510,"s":-70},{"p":"r)","t":530,"s":-100},{"p":"r)","t":550,"s":-70},{"p":"r)","t":570,"s":-90},{"p":"r)","t":590,"s":-110},{"p":"r)","t":610,"s":-120},{"p":"r)","t":630,"s":-70},{"p":"r)","t":650,"s":-100},{"p":"r)","t":670,"s":-90},{"p":"r)","t":690,"s":-70},{"p":"r)","t":710,"s":-90},{"p":"r)","t":730,"s":-80},{"p":"r)","t":750,"s":-100},{"p":"r)","t":770,"s":-70},{"p":"r)","t":790,"s":-100},{"p":"r)","t":810,"s":-110},{"p":"r)","t":830,"s":-70},{"p":"r)","t":850,"s":-90},{"p":"r)","t":870,"s":-80},{"p":"r)","t":890,"s":-100},{"p":"r)","t":910,"s":-70},{"p":"r)","t":930,"s":-90},{"p":"r)","t":950,"s":-70},{"p":"r)","t":970,"s":-100},{"p":"r)","t":990,"s":-120},
{"p":"s)","t":0,"s":-70,"d":-30},{"p":"s)","t":20,"s":-110,"d":-50},{"p":"s)","t":40,"s":-80,"d":-40},{"p":"s)","t":60,"s":-120,"d":-50},{"p":"s)","t":80,"s":-90,"d":-40},{"p":"s)","t":100,"s":-100,"d":80},{"p":"s)","t":120,"s":-170,"d":110},{"p":"s)","t":140,"s":-130,"d":140},{"p":"s)","t":160,"s":-90,"d":-60},{"p":"s)","t":180,"s":-100,"d":-40},{"p":"s)","t":200,"s":-80,"d":-50},{"p":"s)","t":220,"s":-110,"d":-40},{"p":"s)","t":240,"s":-90,"d":120},{"p":"s)","t":260,"s":-170,"d":-50},{"p":"s)","t":280,"s":-100,"d":-40},{"p":"s)","t":300,"s":-80,"d":-60},{"p":"s)","t":320,"s":-110,"d":-40},{"p":"s)","t":340,"s":-140,"d":90},{"p":"s)","t":360,"s":-120,"d":130},{"p":"s)","t":380,"s":-90,"d":-50},{"p":"s)","t":400,"s":-80,"d":-50},{"p":"s)","t":420,"s":-110,"d":-40},{"p":"s)","t":440,"s":-90,"d":-60},{"p":"s)","t":460,"s":-100,"d":-40},{"p":"s)","t":480,"s":-80,"d":-50},{"p":"s)","t":500,"s":-110,"d":-60},{"p":"s)","t":520,"s":-90,"d":-40},{"p":"s)","t":540,"s":-100,"d":-50},{"p":"s)","t":560,"s":-80,"d":-40},{"p":"s)","t":580,"s":-110,"d":-60},{"p":"s)","t":600,"s":-90,"d":-30},{"p":"s)","t":620,"s":-100,"d":-50},{"p":"s)","t":640,"s":-130,"d":120},{"p":"s)","t":660,"s":-110,"d":110},{"p":"s)","t":680,"s":-140,"d":-70},{"p":"s)","t":700,"s":-100,"d":100},{"p":"s)","t":720,"s":-120,"d":-60},{"p":"s)","t":740,"s":-110,"d":110},{"p":"s)","t":760,"s":-130,"d":100},{"p":"s)","t":780,"s":-150,"d":120},{"p":"s)","t":800,"s":-110,"d":-60},{"p":"s)","t":820,"s":-120,"d":90},{"p":"s)","t":840,"s":-100,"d":80},{"p":"s)","t":860,"s":-130,"d":-40},{"p":"s)","t":880,"s":-90,"d":-50},{"p":"s)","t":900,"s":-100,"d":-60},{"p":"s)","t":920,"s":-80,"d":-50},{"p":"s)","t":940,"s":-90,"d":-60},{"p":"s)","t":960,"s":-160,"d":80},{"p":"s)","t":980,"s":-130,"d":100},{"p":"s)","t":1000,"s":-120,"d":110},{"p":"s)","t":350,"s":-170,"d":110},{"p":"s)","t":35,"d":150},{"p":"s)","t":150,"d":120},{"p":"s)","t":230,"d":-40},{"p":"s)","t":235,"d":120},{"p":"s)","t":245,"d":60},{"p":"s)","t":250,"d":-50},{"p":"s)","t":390,"d":10},{"p":"s)","t":650,"d":60},{"p":"s)","t":710,"d":60},{"p":"s)","t":795,"d":90},{"p":"s)","t":845,"d":-60},{"p":"s)","t":985,"d":20},
{"p":"s)","t":10,"s":-90},{"p":"s)","t":30,"s":-70},{"p":"s)","t":50,"s":-100},{"p":"s)","t":70,"s":-90},{"p":"s)","t":90,"s":-120},{"p":"s)","t":110,"s":-130},{"p":"s)","t":130,"s":-140},{"p":"s)","t":150,"s":-100},{"p":"s)","t":170,"s":-120},{"p":"s)","t":190,"s":-80},{"p":"s)","t":210,"s":-100},{"p":"s)","t":230,"s":-80},{"p":"s)","t":250,"s":-120},{"p":"s)","t":270,"s":-120},{"p":"s)","t":290,"s":-80},{"p":"s)","t":310,"s":-100},{"p":"s)","t":330,"s":-90},{"p":"s)","t":370,"s":-150},{"p":"s)","t":390,"s":-110},{"p":"s)","t":410,"s":-90},{"p":"s)","t":430,"s":-100},{"p":"s)","t":450,"s":-80},{"p":"s)","t":470,"s":-110},{"p":"s)","t":490,"s":-90},{"p":"s)","t":510,"s":-80},{"p":"s)","t":530,"s":-110},{"p":"s)","t":550,"s":-90},{"p":"s)","t":570,"s":-100},{"p":"s)","t":590,"s":-80},{"p":"s)","t":610,"s":-110},{"p":"s)","t":630,"s":-90},{"p":"s)","t":650,"s":-120},{"p":"s)","t":670,"s":-110},{"p":"s)","t":690,"s":-120},{"p":"s)","t":710,"s":-130},{"p":"s)","t":730,"s":-100},{"p":"s)","t":750,"s":-140},{"p":"s)","t":770,"s":-110},{"p":"s)","t":790,"s":-130},{"p":"s)","t":810,"s":-100},{"p":"s)","t":830,"s":-100},{"p":"s)","t":850,"s":-130},{"p":"s)","t":870,"s":-110},{"p":"s)","t":890,"s":-120},{"p":"s)","t":910,"s":-90},{"p":"s)","t":930,"s":-100},{"p":"s)","t":950,"s":-130},{"p":"s)","t":970,"s":-140},{"p":"s)","t":990,"s":-150},
{"p":"t)","t":0,"s":-60,"d":-50},{"p":"t)","t":20,"s":-130,"d":-60},{"p":"t)","t":40,"s":-120,"d":120},{"p":"t)","t":60,"s":-100,"d":150},{"p":"t)","t":80,"s":-170,"d":110},{"p":"t)","t":100,"s":-110,"d":130},{"p":"t)","t":120,"s":-130,"d":120},{"p":"t)","t":140,"s":-100,"d":110},{"p":"t)","t":160,"s":-110,"d":130},{"p":"t)","t":180,"s":-130,"d":140},{"p":"t)","t":200,"s":-90,"d":120},{"p":"t)","t":220,"s":-140,"d":130},{"p":"t)","t":240,"s":-110,"d":110},{"p":"t)","t":260,"s":-100,"d":140},{"p":"t)","t":280,"s":-130,"d":120},{"p":"t)","t":300,"s":-170,"d":110},{"p":"t)","t":320,"s":-100,"d":120},{"p":"t)","t":340,"s":-120,"d":130},{"p":"t)","t":360,"s":-90,"d":150},{"p":"t)","t":380,"s":-150,"d":110},{"p":"t)","t":400,"s":-120,"d":120},{"p":"t)","t":420,"s":-100,"d":100},{"p":"t)","t":440,"s":-130,"d":130},{"p":"t)","t":460,"s":-170,"d":100},{"p":"t)","t":480,"s":-110,"d":120},{"p":"t)","t":500,"s":-90,"d":110},{"p":"t)","t":520,"s":-140,"d":100},{"p":"t)","t":540,"s":-120,"d":100},{"p":"t)","t":560,"s":-100,"d":120},{"p":"t)","t":580,"s":-80,"d":-60},{"p":"t)","t":600,"s":-130,"d":-50},{"p":"t)","t":620,"s":-110,"d":80},{"p":"t)","t":640,"s":-100,"d":-60},{"p":"t)","t":660,"s":-150,"d":-60},{"p":"t)","t":680,"s":-120,"d":-60},{"p":"t)","t":700,"s":-130,"d":160},{"p":"t)","t":720,"s":-100,"d":-60},{"p":"t)","t":740,"s":-140,"d":100},{"p":"t)","t":760,"s":-110,"d":120},{"p":"t)","t":780,"s":-130,"d":90},{"p":"t)","t":800,"s":-150,"d":110},{"p":"t)","t":820,"s":-120,"d":120},{"p":"t)","t":840,"s":-100,"d":-60},{"p":"t)","t":860,"s":-170,"d":150},{"p":"t)","t":880,"s":-110,"d":-60},{"p":"t)","t":900,"s":-120,"d":-60},{"p":"t)","t":920,"s":-130,"d":-70},{"p":"t)","t":940,"s":-100,"d":-60},{"p":"t)","t":960,"s":-150,"d":100},{"p":"t)","t":980,"s":-170,"d":-60},{"p":"t)","t":1000,"s":-60,"d":-40},{"p":"t)","t":30,"s":170,"d":160},{"p":"t)","t":65,"s":170},{"p":"t)","t":70,"s":-90},{"p":"t)","t":155,"s":170},{"p":"t)","t":930,"s":160},{"p":"t)","t":995,"s":60},{"p":"t)","t":50,"d":-60},{"p":"t)","t":145,"d":-120},{"p":"t)","t":305,"d":-170},{"p":"t)","t":370,"d":-170},{"p":"t)","t":450,"d":-170},{"p":"t)","t":525,"d":-170},{"p":"t)","t":575,"d":110},{"p":"t)","t":610,"d":110},{"p":"t)","t":675,"d":150},{"p":"t)","t":730,"d":100},{"p":"t)","t":970,"d":150},
{"p":"t)","t":10,"s":-100},{"p":"t)","t":50,"s":-140},{"p":"t)","t":90,"s":-120},{"p":"t)","t":110,"s":-100},{"p":"t)","t":130,"s":-140},{"p":"t)","t":170,"s":-100},{"p":"t)","t":190,"s":-120},{"p":"t)","t":210,"s":-110},{"p":"t)","t":230,"s":-100},{"p":"t)","t":250,"s":-140},{"p":"t)","t":270,"s":-110},{"p":"t)","t":290,"s":-100},{"p":"t)","t":310,"s":-140},{"p":"t)","t":330,"s":-110},{"p":"t)","t":350,"s":-130},{"p":"t)","t":370,"s":-100},{"p":"t)","t":390,"s":-110},{"p":"t)","t":410,"s":-140},{"p":"t)","t":430,"s":-110},{"p":"t)","t":450,"s":-100},{"p":"t)","t":470,"s":-130},{"p":"t)","t":490,"s":-140},{"p":"t)","t":510,"s":-110},{"p":"t)","t":530,"s":-100},{"p":"t)","t":550,"s":-140},{"p":"t)","t":570,"s":-120},{"p":"t)","t":590,"s":-100},{"p":"t)","t":610,"s":-140},{"p":"t)","t":630,"s":-90},{"p":"t)","t":650,"s":-120},{"p":"t)","t":670,"s":-100},{"p":"t)","t":690,"s":-140},{"p":"t)","t":710,"s":-120},{"p":"t)","t":730,"s":-110},{"p":"t)","t":750,"s":-120},{"p":"t)","t":770,"s":-150},{"p":"t)","t":790,"s":-110},{"p":"t)","t":810,"s":-130},{"p":"t)","t":830,"s":-100},{"p":"t)","t":850,"s":-140},{"p":"t)","t":870,"s":-120},{"p":"t)","t":890,"s":-140},{"p":"t)","t":910,"s":-100},{"p":"t)","t":950,"s":-120},{"p":"t)","t":970,"s":-110},{"p":"t)","t":990,"s":-140}
]},
"data":{"name":"main"},
"config":{
 "view":{"stroke":null},
 "font":"Liberation Sans",
 "axis":{"labelFont":"Liberation Sans","labelFontSize":14,"labelColor":"black","domainColor":"black","tickColor":"black","domainWidth":1.5,"tickWidth":1.2,"grid":false,"title":null,"labelOverlap":false},
 "title":{"font":"Liberation Sans","fontSize":28,"fontWeight":"normal","color":"black"}
},
"spacing":40,
"hconcat":[
 {"vconcat":[
  {"transform":[{"filter":{"field":"p","oneOf":["a)","c)","e)","g)","i)"]}}],
   "title":{"text":"â n g u l o\u00a0\u00a0\u00a0\u00a0\u00a0\u00a0\u00a0\u00a0\u00a0\u00a0\u00a0d i e d r a l\u00a0\u00a0\u00a0\u00a0\u00a0\u00a0\u00a0\u00a0\u00a0\u00a0\u00a0( g r a u s )","orient":"left","anchor":"middle","fontSize":25,"offset":30},
   "facet":{"row":{"field":"p","type":"nominal","title":null,"header":{"labels":false}}},
   "spacing":54,"bounds":"flush","resolve":{"axis":{"x":"independent","y":"independent"}},
   "spec":{"width":524,"height":112,"layer":[
    {"transform":[{"filter":"isValid(datum.d)"}],"mark":{"type":"line","color":"black","strokeWidth":1,"strokeDash":[3,2]},
     "encoding":{"x":{"field":"t","type":"quantitative","scale":{"domain":[-50,1050],"nice":false,"zero":false},"axis":{"values":[0,100,200,300,400,500,600,700,800,900,1000],"labelExpr":"datum.value % 200 === 0 ? '' + datum.value : ''","tickSize":-4,"labelPadding":12,"labelFlush":false,"labelOverlap":false}},
      "y":{"field":"d","type":"quantitative","scale":{"domain":[-195,197],"nice":false,"zero":false},"axis":{"values":[-180,-120,-60,0,60,120,180],"labelExpr":"'' + datum.value","tickSize":-4,"labelPadding":7,"labelOverlap":false,"labelFlush":false,"labelBound":false,"labelSeparation":0,"tickCount":7}}}},
    {"transform":[{"filter":"isValid(datum.s)"}],"mark":{"type":"line","color":"black","strokeWidth":1.1},
     "encoding":{"x":{"field":"t","type":"quantitative"},"y":{"field":"s","type":"quantitative","axis":{"values":[-180,-120,-60,0,60,120,180],"labelExpr":"'' + datum.value","tickSize":-4,"labelPadding":7,"labelOverlap":false,"labelFlush":false,"labelBound":false,"labelSeparation":0,"tickCount":7}}}},
    {"transform":[{"filter":"datum.t === 0"}],"mark":{"type":"text","align":"left","baseline":"middle","fontSize":17,"font":"Liberation Sans","color":"black"},
     "encoding":{"x":{"datum":-35,"type":"quantitative"},"y":{"datum":128,"type":"quantitative"},"text":{"field":"p"}}}
   ]}},
  {"transform":[{"filter":{"field":"p","oneOf":["k)","m)","o)","q)","s)"]}}],
   "title":{"text":"â n g u l o\u00a0\u00a0\u00a0\u00a0\u00a0\u00a0\u00a0\u00a0\u00a0\u00a0\u00a0d i e d r a l\u00a0\u00a0\u00a0\u00a0\u00a0\u00a0\u00a0\u00a0\u00a0\u00a0\u00a0( g r a u s )","orient":"left","anchor":"middle","fontSize":25,"offset":30},
   "facet":{"row":{"field":"p","type":"nominal","title":null,"header":{"labels":false}}},
   "spacing":54,"bounds":"flush","resolve":{"axis":{"x":"independent","y":"independent"}},
   "spec":{"width":524,"height":112,"layer":[
    {"transform":[{"filter":"isValid(datum.d)"}],"mark":{"type":"line","color":"black","strokeWidth":1,"strokeDash":[3,2]},
     "encoding":{"x":{"field":"t","type":"quantitative","scale":{"domain":[-50,1050],"nice":false,"zero":false},"axis":{"values":[0,100,200,300,400,500,600,700,800,900,1000],"labelExpr":"datum.value % 200 === 0 ? '' + datum.value : ''","tickSize":-4,"labelPadding":12,"labelFlush":false,"labelOverlap":false}},
      "y":{"field":"d","type":"quantitative","scale":{"domain":[-195,197],"nice":false,"zero":false},"axis":{"values":[-180,-120,-60,0,60,120,180],"labelExpr":"'' + datum.value","tickSize":-4,"labelPadding":7,"labelOverlap":false,"labelFlush":false,"labelBound":false,"labelSeparation":0,"tickCount":7}}}},
    {"transform":[{"filter":"isValid(datum.s)"}],"mark":{"type":"line","color":"black","strokeWidth":1.1},
     "encoding":{"x":{"field":"t","type":"quantitative"},"y":{"field":"s","type":"quantitative","axis":{"values":[-180,-120,-60,0,60,120,180],"labelExpr":"'' + datum.value","tickSize":-4,"labelPadding":7,"labelOverlap":false,"labelFlush":false,"labelBound":false,"labelSeparation":0,"tickCount":7}}}},
    {"transform":[{"filter":"datum.t === 0"}],"mark":{"type":"text","align":"left","baseline":"middle","fontSize":17,"font":"Liberation Sans","color":"black"},
     "encoding":{"x":{"datum":-35,"type":"quantitative"},"y":{"datum":128,"type":"quantitative"},"text":{"field":"p"}}}
   ]}}
  ],
  "spacing":28,
  "title":{"text":"t e m p o\u00a0\u00a0\u00a0( p s )","orient":"bottom","offset":12,"anchor":"middle"}},
 {"vconcat":[
  {"transform":[{"filter":{"field":"p","oneOf":["b)","d)","f)","h)","j)"]}}],
   "facet":{"row":{"field":"p","type":"nominal","title":null,"header":{"labels":false}}},
   "spacing":54,"bounds":"flush","resolve":{"axis":{"x":"independent","y":"independent"}},
   "spec":{"width":524,"height":112,"layer":[
    {"transform":[{"filter":"isValid(datum.d)"}],"mark":{"type":"line","color":"black","strokeWidth":1,"strokeDash":[3,2]},
     "encoding":{"x":{"field":"t","type":"quantitative","scale":{"domain":[-50,1050],"nice":false,"zero":false},"axis":{"values":[0,100,200,300,400,500,600,700,800,900,1000],"labelExpr":"datum.value % 200 === 0 ? '' + datum.value : ''","tickSize":-4,"labelPadding":12,"labelFlush":false,"labelOverlap":false}},
      "y":{"field":"d","type":"quantitative","scale":{"domain":[-195,197],"nice":false,"zero":false},"axis":{"values":[-180,-120,-60,0,60,120,180],"labelExpr":"'' + datum.value","tickSize":-4,"labelPadding":7,"labelOverlap":false,"labelFlush":false,"labelBound":false,"labelSeparation":0,"tickCount":7}}}},
    {"transform":[{"filter":"isValid(datum.s)"}],"mark":{"type":"line","color":"black","strokeWidth":1.1},
     "encoding":{"x":{"field":"t","type":"quantitative"},"y":{"field":"s","type":"quantitative","axis":{"values":[-180,-120,-60,0,60,120,180],"labelExpr":"'' + datum.value","tickSize":-4,"labelPadding":7,"labelOverlap":false,"labelFlush":false,"labelBound":false,"labelSeparation":0,"tickCount":7}}}},
    {"transform":[{"filter":"datum.t === 0"}],"mark":{"type":"text","align":"left","baseline":"middle","fontSize":17,"font":"Liberation Sans","color":"black"},
     "encoding":{"x":{"datum":-35,"type":"quantitative"},"y":{"datum":128,"type":"quantitative"},"text":{"field":"p"}}}
   ]}},
  {"transform":[{"filter":{"field":"p","oneOf":["l)","n)","p)","r)","t)"]}}],
   "facet":{"row":{"field":"p","type":"nominal","title":null,"header":{"labels":false}}},
   "spacing":54,"bounds":"flush","resolve":{"axis":{"x":"independent","y":"independent"}},
   "spec":{"width":524,"height":112,"layer":[
    {"transform":[{"filter":"isValid(datum.d)"}],"mark":{"type":"line","color":"black","strokeWidth":1,"strokeDash":[3,2]},
     "encoding":{"x":{"field":"t","type":"quantitative","scale":{"domain":[-50,1050],"nice":false,"zero":false},"axis":{"values":[0,100,200,300,400,500,600,700,800,900,1000],"labelExpr":"datum.value % 200 === 0 ? '' + datum.value : ''","tickSize":-4,"labelPadding":12,"labelFlush":false,"labelOverlap":false}},
      "y":{"field":"d","type":"quantitative","scale":{"domain":[-195,197],"nice":false,"zero":false},"axis":{"values":[-180,-120,-60,0,60,120,180],"labelExpr":"'' + datum.value","tickSize":-4,"labelPadding":7,"labelOverlap":false,"labelFlush":false,"labelBound":false,"labelSeparation":0,"tickCount":7}}}},
    {"transform":[{"filter":"isValid(datum.s)"}],"mark":{"type":"line","color":"black","strokeWidth":1.1},
     "encoding":{"x":{"field":"t","type":"quantitative"},"y":{"field":"s","type":"quantitative","axis":{"values":[-180,-120,-60,0,60,120,180],"labelExpr":"'' + datum.value","tickSize":-4,"labelPadding":7,"labelOverlap":false,"labelFlush":false,"labelBound":false,"labelSeparation":0,"tickCount":7}}}},
    {"transform":[{"filter":"datum.t === 0"}],"mark":{"type":"text","align":"left","baseline":"middle","fontSize":17,"font":"Liberation Sans","color":"black"},
     "encoding":{"x":{"datum":-35,"type":"quantitative"},"y":{"datum":128,"type":"quantitative"},"text":{"field":"p"}}}
   ]}}
  ],
  "spacing":28,
  "title":{"text":"t e m p o\u00a0\u00a0\u00a0( p s )","orient":"bottom","offset":12,"anchor":"middle"}}
]
}
